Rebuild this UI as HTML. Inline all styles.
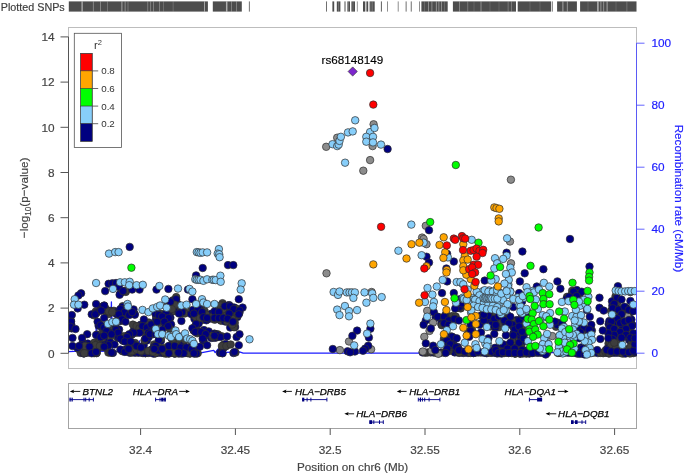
<!DOCTYPE html><html><head><meta charset="utf-8"><title>LocusZoom</title>
<style>html,body{margin:0;padding:0;background:#fff}svg{display:block;will-change:transform}text{font-family:"Liberation Sans",Arial,Helvetica,sans-serif}.t{stroke:#444;stroke-width:.18}.bt{stroke:#2020ff;stroke-width:.18}</style></head><body>
<svg width="685" height="475" viewBox="0 0 685 475">
<rect width="685" height="475" fill="#fff"/>
<text x="0.8" y="10.6" class="t" font-size="10.75" fill="#3c3c3c">Plotted SNPs</text>
<g fill="#4d4d4d">
<rect x="68.8" y="1.4" width="139.1" height="10.2" opacity="1"/>
<rect x="212.8" y="1.4" width="29.0" height="10.2" opacity="1"/>
<rect x="248.9" y="1.4" width="0.8" height="10.2" opacity="1"/>
<rect x="326.2" y="1.4" width="0.8" height="10.2" opacity="1"/>
<rect x="332.4" y="1.4" width="1.8" height="10.2" opacity="1"/>
<rect x="336.8" y="1.4" width="3.6" height="10.2" opacity="1"/>
<rect x="344.0" y="1.4" width="2.0" height="10.2" opacity="0.5"/>
<rect x="347.4" y="1.4" width="2.6" height="10.2" opacity="1"/>
<rect x="351.4" y="1.4" width="3.6" height="10.2" opacity="1"/>
<rect x="356.9" y="1.4" width="0.7" height="10.2" opacity="0.8"/>
<rect x="363.0" y="1.4" width="2.3" height="10.2" opacity="1"/>
<rect x="366.4" y="1.4" width="1.8" height="10.2" opacity="1"/>
<rect x="369.6" y="1.4" width="5.1" height="10.2" opacity="1"/>
<rect x="380.9" y="1.4" width="0.9" height="10.2" opacity="1"/>
<rect x="387.1" y="1.4" width="0.7" height="10.2" opacity="0.9"/>
<rect x="397.8" y="1.4" width="0.7" height="10.2" opacity="0.9"/>
<rect x="405.7" y="1.4" width="0.8" height="10.2" opacity="1"/>
<rect x="410.8" y="1.4" width="0.8" height="10.2" opacity="1"/>
<rect x="419.0" y="1.4" width="0.7" height="10.2" opacity="0.9"/>
<rect x="421.4" y="1.4" width="26.3" height="10.2" opacity="1"/>
<rect x="452.9" y="1.4" width="63.1" height="10.2" opacity="1"/>
<rect x="517.7" y="1.4" width="33.5" height="10.2" opacity="1"/>
<rect x="552.1" y="1.4" width="0.7" height="10.2" opacity="0.9"/>
<rect x="557.1" y="1.4" width="19.8" height="10.2" opacity="1"/>
<rect x="580.1" y="1.4" width="56.4" height="10.2" opacity="1"/>
</g>
<g fill="#fff">
<rect x="81.50" y="1.4" width="1.2" height="10.2" opacity="0.6"/>
<rect x="92.90" y="1.4" width="0.8" height="10.2" opacity="0.4"/>
<rect x="100.20" y="1.4" width="0.8" height="10.2" opacity="0.4"/>
<rect x="107.00" y="1.4" width="0.6" height="10.2" opacity="0.35"/>
<rect x="121.40" y="1.4" width="1" height="10.2" opacity="0.5"/>
<rect x="124.75" y="1.4" width="0.7" height="10.2" opacity="0.5"/>
<rect x="127.70" y="1.4" width="0.6" height="10.2" opacity="0.4"/>
<rect x="147.45" y="1.4" width="0.7" height="10.2" opacity="0.4"/>
<rect x="150.35" y="1.4" width="0.7" height="10.2" opacity="0.4"/>
<rect x="153.25" y="1.4" width="0.7" height="10.2" opacity="0.4"/>
<rect x="159.05" y="1.4" width="0.7" height="10.2" opacity="0.4"/>
<rect x="163.30" y="1.4" width="0.6" height="10.2" opacity="0.3"/>
<rect x="172.80" y="1.4" width="0.6" height="10.2" opacity="0.3"/>
<rect x="204.05" y="1.4" width="0.9" height="10.2" opacity="0.55"/>
<rect x="225.95" y="1.4" width="1.5" height="10.2" opacity="0.55"/>
<rect x="231.15" y="1.4" width="0.7" height="10.2" opacity="0.4"/>
<rect x="236.25" y="1.4" width="0.7" height="10.2" opacity="0.4"/>
<rect x="338.05" y="1.4" width="0.5" height="10.2" opacity="0.4"/>
<rect x="348.25" y="1.4" width="0.5" height="10.2" opacity="0.4"/>
<rect x="352.75" y="1.4" width="0.5" height="10.2" opacity="0.4"/>
<rect x="370.75" y="1.4" width="0.5" height="10.2" opacity="0.4"/>
<rect x="372.55" y="1.4" width="0.5" height="10.2" opacity="0.4"/>
<rect x="428.00" y="1.4" width="0.8" height="10.2" opacity="0.45"/>
<rect x="431.50" y="1.4" width="0.8" height="10.2" opacity="0.45"/>
<rect x="435.90" y="1.4" width="0.8" height="10.2" opacity="0.5"/>
<rect x="438.55" y="1.4" width="0.7" height="10.2" opacity="0.5"/>
<rect x="441.15" y="1.4" width="0.7" height="10.2" opacity="0.5"/>
<rect x="424.25" y="1.4" width="0.5" height="10.2" opacity="0.3"/>
<rect x="444.25" y="1.4" width="0.5" height="10.2" opacity="0.3"/>
<rect x="459.00" y="1.4" width="0.8" height="10.2" opacity="0.4"/>
<rect x="467.45" y="1.4" width="0.7" height="10.2" opacity="0.35"/>
<rect x="480.60" y="1.4" width="0.8" height="10.2" opacity="0.45"/>
<rect x="507.75" y="1.4" width="0.7" height="10.2" opacity="0.35"/>
<rect x="511.25" y="1.4" width="0.7" height="10.2" opacity="0.35"/>
<rect x="473.75" y="1.4" width="0.5" height="10.2" opacity="0.25"/>
<rect x="489.75" y="1.4" width="0.5" height="10.2" opacity="0.25"/>
<rect x="498.75" y="1.4" width="0.5" height="10.2" opacity="0.25"/>
<rect x="562.40" y="1.4" width="1" height="10.2" opacity="0.5"/>
<rect x="566.85" y="1.4" width="0.9" height="10.2" opacity="0.45"/>
<rect x="529.75" y="1.4" width="0.5" height="10.2" opacity="0.25"/>
<rect x="539.75" y="1.4" width="0.5" height="10.2" opacity="0.25"/>
<rect x="597.10" y="1.4" width="1.6" height="10.2" opacity="0.55"/>
<rect x="600.50" y="1.4" width="0.8" height="10.2" opacity="0.5"/>
<rect x="603.30" y="1.4" width="0.8" height="10.2" opacity="0.45"/>
<rect x="606.60" y="1.4" width="1" height="10.2" opacity="0.5"/>
<rect x="626.55" y="1.4" width="0.7" height="10.2" opacity="0.3"/>
<rect x="587.75" y="1.4" width="0.5" height="10.2" opacity="0.25"/>
<rect x="615.75" y="1.4" width="0.5" height="10.2" opacity="0.25"/>
</g>
<rect x="68.5" y="27.5" width="568.0" height="341.0" fill="none" stroke="#bdbdbd" stroke-width="1"/>
<path d="M68.5 351.6 L80 351.2 L95 351.4 L96.2 328 L97.2 351.4 L110.3 351.2 L111.4 302 L112.6 351.3 L138.5 351.5 L139.5 341 L140.5 351.5 L202 352.6 L213.8 350.4 L215.2 352.6 L218.2 348.9 L219.6 352.6 L239.5 351.9 L243.2 353.2 L420 353.2 L430 352.6 L636.5 352.6" fill="none" stroke="#1c1cff" stroke-width="1.3" stroke-linejoin="round"/>
<clipPath id="cp"><rect x="68.5" y="27.5" width="568.0" height="341.0"/></clipPath>
<g stroke="#2e2e2e" stroke-width="0.7" clip-path="url(#cp)">
<circle cx="80.7" cy="352.9" r="3.75" fill="#3d3d3d"/>
<circle cx="83.6" cy="352.7" r="3.75" fill="#3d3d3d"/>
<circle cx="86.2" cy="352.4" r="3.75" fill="#3d3d3d"/>
<circle cx="88.4" cy="352.5" r="3.75" fill="#000080"/>
<circle cx="91.7" cy="352.5" r="3.75" fill="#000080"/>
<circle cx="94.1" cy="353.2" r="3.75" fill="#3d3d3d"/>
<circle cx="96.5" cy="353.2" r="3.75" fill="#000080"/>
<circle cx="108.4" cy="352.6" r="3.75" fill="#3d3d3d"/>
<circle cx="110.2" cy="352.6" r="3.75" fill="#3d3d3d"/>
<circle cx="112.9" cy="352.9" r="3.75" fill="#000080"/>
<circle cx="129.9" cy="352.8" r="3.75" fill="#000080"/>
<circle cx="132.2" cy="352.6" r="3.75" fill="#3d3d3d"/>
<circle cx="135.1" cy="352.7" r="3.75" fill="#000080"/>
<circle cx="137.8" cy="352.6" r="3.75" fill="#000080"/>
<circle cx="140.6" cy="352.6" r="3.75" fill="#000080"/>
<circle cx="143.0" cy="353.1" r="3.75" fill="#000080"/>
<circle cx="145.4" cy="353.2" r="3.75" fill="#000080"/>
<circle cx="148.1" cy="353.0" r="3.75" fill="#3d3d3d"/>
<circle cx="150.8" cy="352.4" r="3.75" fill="#3d3d3d"/>
<circle cx="153.7" cy="352.9" r="3.75" fill="#000080"/>
<circle cx="155.8" cy="353.0" r="3.75" fill="#000080"/>
<circle cx="158.7" cy="352.8" r="3.75" fill="#000080"/>
<circle cx="161.6" cy="352.8" r="3.75" fill="#000080"/>
<circle cx="163.4" cy="353.0" r="3.75" fill="#000080"/>
<circle cx="166.9" cy="353.1" r="3.75" fill="#000080"/>
<circle cx="168.9" cy="352.9" r="3.75" fill="#3d3d3d"/>
<circle cx="171.6" cy="352.5" r="3.75" fill="#3d3d3d"/>
<circle cx="173.8" cy="353.0" r="3.75" fill="#3d3d3d"/>
<circle cx="176.5" cy="352.7" r="3.75" fill="#3d3d3d"/>
<circle cx="179.0" cy="352.8" r="3.75" fill="#000080"/>
<circle cx="182.4" cy="353.1" r="3.75" fill="#000080"/>
<circle cx="184.4" cy="352.7" r="3.75" fill="#000080"/>
<circle cx="187.6" cy="353.2" r="3.75" fill="#3d3d3d"/>
<circle cx="189.5" cy="352.6" r="3.75" fill="#3d3d3d"/>
<circle cx="192.4" cy="352.9" r="3.75" fill="#3d3d3d"/>
<circle cx="194.5" cy="352.7" r="3.75" fill="#3d3d3d"/>
<circle cx="197.7" cy="353.2" r="3.75" fill="#3d3d3d"/>
<circle cx="220.0" cy="352.9" r="3.75" fill="#000080"/>
<circle cx="222.2" cy="353.1" r="3.75" fill="#000080"/>
<circle cx="233.4" cy="353.0" r="3.75" fill="#000080"/>
<circle cx="235.5" cy="352.5" r="3.75" fill="#3d3d3d"/>
<circle cx="422.6" cy="352.5" r="3.75" fill="#000080"/>
<circle cx="425.3" cy="352.7" r="3.75" fill="#3d3d3d"/>
<circle cx="427.7" cy="352.5" r="3.75" fill="#3d3d3d"/>
<circle cx="430.7" cy="352.4" r="3.75" fill="#3d3d3d"/>
<circle cx="433.5" cy="352.5" r="3.75" fill="#000080"/>
<circle cx="435.8" cy="352.7" r="3.75" fill="#3d3d3d"/>
<circle cx="438.9" cy="353.2" r="3.75" fill="#3d3d3d"/>
<circle cx="441.2" cy="352.5" r="3.75" fill="#000080"/>
<circle cx="443.6" cy="352.6" r="3.75" fill="#3d3d3d"/>
<circle cx="454.7" cy="352.4" r="3.75" fill="#000080"/>
<circle cx="457.6" cy="352.5" r="3.75" fill="#000080"/>
<circle cx="459.7" cy="352.8" r="3.75" fill="#000080"/>
<circle cx="463.2" cy="353.0" r="3.75" fill="#000080"/>
<circle cx="465.3" cy="352.5" r="3.75" fill="#3d3d3d"/>
<circle cx="468.0" cy="353.0" r="3.75" fill="#000080"/>
<circle cx="470.3" cy="353.0" r="3.75" fill="#3d3d3d"/>
<circle cx="473.6" cy="353.0" r="3.75" fill="#000080"/>
<circle cx="476.0" cy="352.6" r="3.75" fill="#000080"/>
<circle cx="478.3" cy="352.4" r="3.75" fill="#000080"/>
<circle cx="480.8" cy="352.6" r="3.75" fill="#3d3d3d"/>
<circle cx="484.1" cy="352.8" r="3.75" fill="#000080"/>
<circle cx="486.7" cy="353.2" r="3.75" fill="#000080"/>
<circle cx="488.5" cy="352.6" r="3.75" fill="#3d3d3d"/>
<circle cx="491.1" cy="352.9" r="3.75" fill="#3d3d3d"/>
<circle cx="494.3" cy="352.8" r="3.75" fill="#000080"/>
<circle cx="496.9" cy="352.5" r="3.75" fill="#000080"/>
<circle cx="499.6" cy="353.0" r="3.75" fill="#000080"/>
<circle cx="501.8" cy="352.5" r="3.75" fill="#000080"/>
<circle cx="504.2" cy="353.0" r="3.75" fill="#000080"/>
<circle cx="506.9" cy="352.7" r="3.75" fill="#000080"/>
<circle cx="509.8" cy="352.5" r="3.75" fill="#000080"/>
<circle cx="511.9" cy="353.1" r="3.75" fill="#3d3d3d"/>
<circle cx="514.4" cy="353.1" r="3.75" fill="#000080"/>
<circle cx="519.2" cy="352.7" r="3.75" fill="#000080"/>
<circle cx="521.2" cy="352.4" r="3.75" fill="#000080"/>
<circle cx="524.3" cy="352.8" r="3.75" fill="#000080"/>
<circle cx="526.7" cy="353.1" r="3.75" fill="#000080"/>
<circle cx="529.1" cy="352.6" r="3.75" fill="#000080"/>
<circle cx="531.7" cy="352.9" r="3.75" fill="#3d3d3d"/>
<circle cx="534.5" cy="352.5" r="3.75" fill="#3d3d3d"/>
<circle cx="537.1" cy="352.8" r="3.75" fill="#000080"/>
<circle cx="540.2" cy="352.7" r="3.75" fill="#000080"/>
<circle cx="542.4" cy="352.8" r="3.75" fill="#000080"/>
<circle cx="544.5" cy="352.8" r="3.75" fill="#000080"/>
<circle cx="547.1" cy="353.0" r="3.75" fill="#3d3d3d"/>
<circle cx="558.0" cy="353.0" r="3.75" fill="#3d3d3d"/>
<circle cx="560.4" cy="352.8" r="3.75" fill="#000080"/>
<circle cx="563.5" cy="352.5" r="3.75" fill="#000080"/>
<circle cx="565.5" cy="352.6" r="3.75" fill="#000080"/>
<circle cx="568.4" cy="352.8" r="3.75" fill="#000080"/>
<circle cx="571.4" cy="352.8" r="3.75" fill="#000080"/>
<circle cx="573.6" cy="352.8" r="3.75" fill="#000080"/>
<circle cx="582.0" cy="352.8" r="3.75" fill="#000080"/>
<circle cx="585.0" cy="353.0" r="3.75" fill="#000080"/>
<circle cx="587.6" cy="352.6" r="3.75" fill="#000080"/>
<circle cx="590.2" cy="353.1" r="3.75" fill="#000080"/>
<circle cx="592.0" cy="352.8" r="3.75" fill="#3d3d3d"/>
<circle cx="594.7" cy="352.5" r="3.75" fill="#3d3d3d"/>
<circle cx="597.9" cy="353.1" r="3.75" fill="#000080"/>
<circle cx="600.4" cy="352.9" r="3.75" fill="#3d3d3d"/>
<circle cx="603.2" cy="353.2" r="3.75" fill="#3d3d3d"/>
<circle cx="605.9" cy="352.7" r="3.75" fill="#3d3d3d"/>
<circle cx="608.5" cy="353.1" r="3.75" fill="#000080"/>
<circle cx="610.5" cy="352.8" r="3.75" fill="#3d3d3d"/>
<circle cx="612.9" cy="352.7" r="3.75" fill="#3d3d3d"/>
<circle cx="615.3" cy="352.8" r="3.75" fill="#000080"/>
<circle cx="617.9" cy="352.7" r="3.75" fill="#000080"/>
<circle cx="621.0" cy="352.5" r="3.75" fill="#000080"/>
<circle cx="623.9" cy="353.2" r="3.75" fill="#000080"/>
<circle cx="626.0" cy="352.4" r="3.75" fill="#3d3d3d"/>
<circle cx="628.6" cy="352.5" r="3.75" fill="#000080"/>
<circle cx="631.8" cy="353.1" r="3.75" fill="#000080"/>
<circle cx="633.6" cy="353.1" r="3.75" fill="#3d3d3d"/>
<circle cx="636.8" cy="352.5" r="3.75" fill="#000080"/>
<circle cx="639.4" cy="352.7" r="3.75" fill="#3d3d3d"/>
<circle cx="125.8" cy="291.9" r="3.75" fill="#3d3d3d"/>
<circle cx="120.4" cy="293.3" r="3.75" fill="#000080"/>
<circle cx="125.4" cy="290.8" r="3.75" fill="#3d3d3d"/>
<circle cx="108.9" cy="313.9" r="3.75" fill="#3d3d3d"/>
<circle cx="106.2" cy="311.5" r="3.75" fill="#3d3d3d"/>
<circle cx="106.1" cy="309.3" r="3.75" fill="#3d3d3d"/>
<circle cx="110.4" cy="311.0" r="3.75" fill="#3d3d3d"/>
<circle cx="113.9" cy="310.8" r="3.75" fill="#3d3d3d"/>
<circle cx="110.2" cy="311.2" r="3.75" fill="#000080"/>
<circle cx="83.4" cy="343.1" r="3.75" fill="#3d3d3d"/>
<circle cx="85.4" cy="344.1" r="3.75" fill="#000080"/>
<circle cx="87.8" cy="343.6" r="3.75" fill="#000080"/>
<circle cx="83.9" cy="353.3" r="3.75" fill="#000080"/>
<circle cx="83.6" cy="353.4" r="3.75" fill="#000080"/>
<circle cx="87.4" cy="352.4" r="3.75" fill="#000080"/>
<circle cx="96.7" cy="346.0" r="3.75" fill="#000080"/>
<circle cx="94.4" cy="342.6" r="3.75" fill="#3d3d3d"/>
<circle cx="92.6" cy="346.7" r="3.75" fill="#3d3d3d"/>
<circle cx="97.6" cy="343.5" r="3.75" fill="#3d3d3d"/>
<circle cx="102.1" cy="347.0" r="3.75" fill="#000080"/>
<circle cx="98.1" cy="344.7" r="3.75" fill="#3d3d3d"/>
<circle cx="134.4" cy="325.8" r="3.75" fill="#000080"/>
<circle cx="139.5" cy="328.9" r="3.75" fill="#3d3d3d"/>
<circle cx="134.9" cy="328.9" r="3.75" fill="#000080"/>
<circle cx="131.2" cy="348.1" r="3.75" fill="#3d3d3d"/>
<circle cx="132.0" cy="351.1" r="3.75" fill="#3d3d3d"/>
<circle cx="132.2" cy="348.1" r="3.75" fill="#3d3d3d"/>
<circle cx="134.0" cy="349.0" r="3.75" fill="#3d3d3d"/>
<circle cx="133.5" cy="348.5" r="3.75" fill="#3d3d3d"/>
<circle cx="137.1" cy="349.8" r="3.75" fill="#3d3d3d"/>
<circle cx="142.0" cy="352.4" r="3.75" fill="#000080"/>
<circle cx="140.3" cy="350.1" r="3.75" fill="#000080"/>
<circle cx="138.8" cy="352.5" r="3.75" fill="#000080"/>
<circle cx="145.4" cy="353.1" r="3.75" fill="#000080"/>
<circle cx="149.2" cy="352.5" r="3.75" fill="#000080"/>
<circle cx="146.1" cy="351.3" r="3.75" fill="#000080"/>
<circle cx="154.9" cy="353.6" r="3.75" fill="#000080"/>
<circle cx="153.3" cy="353.6" r="3.75" fill="#000080"/>
<circle cx="154.0" cy="350.2" r="3.75" fill="#000080"/>
<circle cx="137.2" cy="327.5" r="3.75" fill="#3d3d3d"/>
<circle cx="141.7" cy="328.6" r="3.75" fill="#3d3d3d"/>
<circle cx="140.3" cy="329.4" r="3.75" fill="#000080"/>
<circle cx="101.0" cy="307.3" r="3.75" fill="#000080"/>
<circle cx="104.2" cy="305.7" r="3.75" fill="#000080"/>
<circle cx="101.4" cy="306.9" r="3.75" fill="#000080"/>
<circle cx="68.3" cy="320.3" r="3.75" fill="#3d3d3d"/>
<circle cx="69.2" cy="323.1" r="3.75" fill="#000080"/>
<circle cx="71.0" cy="321.0" r="3.75" fill="#000080"/>
<circle cx="71.5" cy="328.4" r="3.75" fill="#000080"/>
<circle cx="71.2" cy="324.3" r="3.75" fill="#000080"/>
<circle cx="68.7" cy="328.3" r="3.75" fill="#3d3d3d"/>
<circle cx="95.8" cy="311.4" r="3.75" fill="#3d3d3d"/>
<circle cx="93.9" cy="315.3" r="3.75" fill="#3d3d3d"/>
<circle cx="96.5" cy="313.0" r="3.75" fill="#000080"/>
<circle cx="101.0" cy="310.4" r="3.75" fill="#000080"/>
<circle cx="103.8" cy="308.8" r="3.75" fill="#3d3d3d"/>
<circle cx="104.0" cy="307.7" r="3.75" fill="#000080"/>
<circle cx="102.5" cy="328.2" r="3.75" fill="#000080"/>
<circle cx="99.0" cy="323.6" r="3.75" fill="#3d3d3d"/>
<circle cx="98.6" cy="325.8" r="3.75" fill="#000080"/>
<circle cx="104.3" cy="330.3" r="3.75" fill="#3d3d3d"/>
<circle cx="106.2" cy="327.6" r="3.75" fill="#3d3d3d"/>
<circle cx="105.5" cy="325.9" r="3.75" fill="#000080"/>
<circle cx="106.3" cy="328.4" r="3.75" fill="#000080"/>
<circle cx="106.3" cy="330.9" r="3.75" fill="#3d3d3d"/>
<circle cx="104.1" cy="330.3" r="3.75" fill="#3d3d3d"/>
<circle cx="122.6" cy="306.2" r="3.75" fill="#3d3d3d"/>
<circle cx="122.6" cy="306.9" r="3.75" fill="#000080"/>
<circle cx="121.7" cy="311.6" r="3.75" fill="#000080"/>
<circle cx="124.0" cy="311.4" r="3.75" fill="#3d3d3d"/>
<circle cx="125.4" cy="311.3" r="3.75" fill="#000080"/>
<circle cx="123.4" cy="309.4" r="3.75" fill="#3d3d3d"/>
<circle cx="131.4" cy="313.8" r="3.75" fill="#3d3d3d"/>
<circle cx="127.6" cy="313.6" r="3.75" fill="#000080"/>
<circle cx="127.2" cy="314.3" r="3.75" fill="#000080"/>
<circle cx="134.6" cy="314.0" r="3.75" fill="#000080"/>
<circle cx="134.8" cy="314.7" r="3.75" fill="#000080"/>
<circle cx="133.6" cy="309.4" r="3.75" fill="#000080"/>
<circle cx="118.6" cy="315.8" r="3.75" fill="#000080"/>
<circle cx="117.5" cy="311.6" r="3.75" fill="#000080"/>
<circle cx="116.5" cy="314.1" r="3.75" fill="#000080"/>
<circle cx="120.6" cy="320.9" r="3.75" fill="#3d3d3d"/>
<circle cx="120.3" cy="320.4" r="3.75" fill="#000080"/>
<circle cx="122.2" cy="318.8" r="3.75" fill="#3d3d3d"/>
<circle cx="113.8" cy="328.0" r="3.75" fill="#3d3d3d"/>
<circle cx="115.9" cy="328.1" r="3.75" fill="#000080"/>
<circle cx="119.1" cy="329.5" r="3.75" fill="#000080"/>
<circle cx="116.2" cy="330.3" r="3.75" fill="#3d3d3d"/>
<circle cx="115.6" cy="331.1" r="3.75" fill="#3d3d3d"/>
<circle cx="118.6" cy="335.0" r="3.75" fill="#3d3d3d"/>
<circle cx="111.0" cy="333.7" r="3.75" fill="#000080"/>
<circle cx="110.8" cy="333.2" r="3.75" fill="#000080"/>
<circle cx="110.1" cy="337.0" r="3.75" fill="#3d3d3d"/>
<circle cx="142.5" cy="326.9" r="3.75" fill="#3d3d3d"/>
<circle cx="140.7" cy="324.7" r="3.75" fill="#000080"/>
<circle cx="141.8" cy="325.8" r="3.75" fill="#3d3d3d"/>
<circle cx="149.1" cy="329.8" r="3.75" fill="#000080"/>
<circle cx="143.9" cy="328.8" r="3.75" fill="#3d3d3d"/>
<circle cx="146.7" cy="328.1" r="3.75" fill="#000080"/>
<circle cx="150.6" cy="327.2" r="3.75" fill="#3d3d3d"/>
<circle cx="153.6" cy="327.4" r="3.75" fill="#000080"/>
<circle cx="148.8" cy="322.5" r="3.75" fill="#3d3d3d"/>
<circle cx="155.4" cy="332.4" r="3.75" fill="#000080"/>
<circle cx="155.2" cy="331.4" r="3.75" fill="#000080"/>
<circle cx="154.6" cy="327.0" r="3.75" fill="#000080"/>
<circle cx="155.5" cy="324.2" r="3.75" fill="#000080"/>
<circle cx="155.9" cy="319.4" r="3.75" fill="#000080"/>
<circle cx="158.1" cy="322.9" r="3.75" fill="#3d3d3d"/>
<circle cx="155.9" cy="315.2" r="3.75" fill="#3d3d3d"/>
<circle cx="158.0" cy="313.4" r="3.75" fill="#000080"/>
<circle cx="155.5" cy="313.8" r="3.75" fill="#000080"/>
<circle cx="151.3" cy="333.6" r="3.75" fill="#000080"/>
<circle cx="148.2" cy="331.1" r="3.75" fill="#000080"/>
<circle cx="151.3" cy="333.9" r="3.75" fill="#3d3d3d"/>
<circle cx="136.5" cy="332.7" r="3.75" fill="#3d3d3d"/>
<circle cx="139.0" cy="331.3" r="3.75" fill="#000080"/>
<circle cx="142.2" cy="331.1" r="3.75" fill="#000080"/>
<circle cx="132.6" cy="332.2" r="3.75" fill="#3d3d3d"/>
<circle cx="131.7" cy="334.5" r="3.75" fill="#000080"/>
<circle cx="133.7" cy="330.9" r="3.75" fill="#000080"/>
<circle cx="128.0" cy="336.1" r="3.75" fill="#000080"/>
<circle cx="127.4" cy="335.7" r="3.75" fill="#3d3d3d"/>
<circle cx="132.1" cy="334.2" r="3.75" fill="#3d3d3d"/>
<circle cx="125.2" cy="336.6" r="3.75" fill="#3d3d3d"/>
<circle cx="129.9" cy="335.0" r="3.75" fill="#000080"/>
<circle cx="125.2" cy="340.0" r="3.75" fill="#3d3d3d"/>
<circle cx="97.6" cy="334.5" r="3.75" fill="#3d3d3d"/>
<circle cx="103.0" cy="339.4" r="3.75" fill="#3d3d3d"/>
<circle cx="103.7" cy="339.7" r="3.75" fill="#000080"/>
<circle cx="102.2" cy="338.3" r="3.75" fill="#3d3d3d"/>
<circle cx="101.2" cy="336.6" r="3.75" fill="#000080"/>
<circle cx="103.4" cy="334.6" r="3.75" fill="#3d3d3d"/>
<circle cx="117.2" cy="337.3" r="3.75" fill="#3d3d3d"/>
<circle cx="123.3" cy="336.3" r="3.75" fill="#3d3d3d"/>
<circle cx="118.5" cy="337.7" r="3.75" fill="#000080"/>
<circle cx="126.9" cy="341.1" r="3.75" fill="#000080"/>
<circle cx="124.6" cy="340.8" r="3.75" fill="#3d3d3d"/>
<circle cx="122.8" cy="340.7" r="3.75" fill="#000080"/>
<circle cx="105.6" cy="344.7" r="3.75" fill="#000080"/>
<circle cx="110.3" cy="342.5" r="3.75" fill="#000080"/>
<circle cx="105.8" cy="347.7" r="3.75" fill="#3d3d3d"/>
<circle cx="132.3" cy="343.9" r="3.75" fill="#3d3d3d"/>
<circle cx="129.2" cy="344.3" r="3.75" fill="#3d3d3d"/>
<circle cx="129.2" cy="342.8" r="3.75" fill="#000080"/>
<circle cx="135.1" cy="343.0" r="3.75" fill="#3d3d3d"/>
<circle cx="139.2" cy="346.8" r="3.75" fill="#000080"/>
<circle cx="133.5" cy="344.4" r="3.75" fill="#000080"/>
<circle cx="143.9" cy="350.2" r="3.75" fill="#000080"/>
<circle cx="139.4" cy="347.0" r="3.75" fill="#3d3d3d"/>
<circle cx="143.7" cy="345.5" r="3.75" fill="#000080"/>
<circle cx="146.9" cy="340.5" r="3.75" fill="#000080"/>
<circle cx="146.1" cy="337.6" r="3.75" fill="#000080"/>
<circle cx="144.5" cy="340.3" r="3.75" fill="#3d3d3d"/>
<circle cx="147.9" cy="335.7" r="3.75" fill="#3d3d3d"/>
<circle cx="147.1" cy="331.4" r="3.75" fill="#3d3d3d"/>
<circle cx="148.7" cy="337.1" r="3.75" fill="#000080"/>
<circle cx="158.9" cy="332.8" r="3.75" fill="#000080"/>
<circle cx="153.1" cy="334.2" r="3.75" fill="#3d3d3d"/>
<circle cx="155.4" cy="332.6" r="3.75" fill="#000080"/>
<circle cx="159.4" cy="341.1" r="3.75" fill="#3d3d3d"/>
<circle cx="160.9" cy="341.1" r="3.75" fill="#000080"/>
<circle cx="160.9" cy="338.8" r="3.75" fill="#3d3d3d"/>
<circle cx="154.9" cy="347.4" r="3.75" fill="#000080"/>
<circle cx="154.1" cy="344.4" r="3.75" fill="#3d3d3d"/>
<circle cx="158.2" cy="346.4" r="3.75" fill="#3d3d3d"/>
<circle cx="78.5" cy="348.9" r="3.75" fill="#3d3d3d"/>
<circle cx="77.4" cy="347.8" r="3.75" fill="#000080"/>
<circle cx="82.3" cy="343.6" r="3.75" fill="#000080"/>
<circle cx="91.5" cy="348.7" r="3.75" fill="#000080"/>
<circle cx="86.5" cy="345.5" r="3.75" fill="#000080"/>
<circle cx="87.5" cy="349.5" r="3.75" fill="#3d3d3d"/>
<circle cx="94.4" cy="352.6" r="3.75" fill="#000080"/>
<circle cx="91.3" cy="351.9" r="3.75" fill="#000080"/>
<circle cx="94.5" cy="351.0" r="3.75" fill="#000080"/>
<circle cx="96.9" cy="350.2" r="3.75" fill="#000080"/>
<circle cx="93.8" cy="350.1" r="3.75" fill="#3d3d3d"/>
<circle cx="96.7" cy="352.8" r="3.75" fill="#3d3d3d"/>
<circle cx="101.1" cy="345.7" r="3.75" fill="#3d3d3d"/>
<circle cx="102.2" cy="345.6" r="3.75" fill="#000080"/>
<circle cx="106.1" cy="347.0" r="3.75" fill="#3d3d3d"/>
<circle cx="122.3" cy="351.2" r="3.75" fill="#3d3d3d"/>
<circle cx="125.7" cy="349.4" r="3.75" fill="#000080"/>
<circle cx="126.1" cy="351.3" r="3.75" fill="#3d3d3d"/>
<circle cx="127.3" cy="351.6" r="3.75" fill="#3d3d3d"/>
<circle cx="128.9" cy="348.1" r="3.75" fill="#3d3d3d"/>
<circle cx="130.8" cy="351.9" r="3.75" fill="#3d3d3d"/>
<circle cx="156.7" cy="351.8" r="3.75" fill="#3d3d3d"/>
<circle cx="155.5" cy="352.8" r="3.75" fill="#3d3d3d"/>
<circle cx="160.7" cy="349.8" r="3.75" fill="#3d3d3d"/>
<circle cx="154.0" cy="346.9" r="3.75" fill="#000080"/>
<circle cx="154.6" cy="349.8" r="3.75" fill="#3d3d3d"/>
<circle cx="151.6" cy="349.6" r="3.75" fill="#000080"/>
<circle cx="176.2" cy="297.1" r="3.75" fill="#3d3d3d"/>
<circle cx="176.3" cy="301.8" r="3.75" fill="#3d3d3d"/>
<circle cx="176.1" cy="301.0" r="3.75" fill="#3d3d3d"/>
<circle cx="172.8" cy="302.5" r="3.75" fill="#000080"/>
<circle cx="177.8" cy="304.6" r="3.75" fill="#000080"/>
<circle cx="177.5" cy="304.1" r="3.75" fill="#3d3d3d"/>
<circle cx="172.6" cy="311.1" r="3.75" fill="#000080"/>
<circle cx="173.6" cy="307.5" r="3.75" fill="#3d3d3d"/>
<circle cx="174.0" cy="311.1" r="3.75" fill="#3d3d3d"/>
<circle cx="180.3" cy="308.5" r="3.75" fill="#3d3d3d"/>
<circle cx="181.3" cy="306.9" r="3.75" fill="#000080"/>
<circle cx="183.5" cy="311.5" r="3.75" fill="#3d3d3d"/>
<circle cx="220.8" cy="307.0" r="3.75" fill="#3d3d3d"/>
<circle cx="222.5" cy="303.2" r="3.75" fill="#3d3d3d"/>
<circle cx="220.7" cy="306.2" r="3.75" fill="#000080"/>
<circle cx="222.8" cy="309.6" r="3.75" fill="#3d3d3d"/>
<circle cx="224.3" cy="308.8" r="3.75" fill="#3d3d3d"/>
<circle cx="220.3" cy="309.9" r="3.75" fill="#3d3d3d"/>
<circle cx="194.4" cy="318.8" r="3.75" fill="#000080"/>
<circle cx="195.8" cy="315.3" r="3.75" fill="#000080"/>
<circle cx="193.6" cy="315.0" r="3.75" fill="#000080"/>
<circle cx="197.2" cy="317.6" r="3.75" fill="#3d3d3d"/>
<circle cx="196.8" cy="318.8" r="3.75" fill="#000080"/>
<circle cx="201.3" cy="319.6" r="3.75" fill="#3d3d3d"/>
<circle cx="223.4" cy="315.8" r="3.75" fill="#000080"/>
<circle cx="229.2" cy="313.6" r="3.75" fill="#3d3d3d"/>
<circle cx="229.4" cy="317.2" r="3.75" fill="#000080"/>
<circle cx="230.2" cy="327.5" r="3.75" fill="#000080"/>
<circle cx="235.1" cy="327.1" r="3.75" fill="#000080"/>
<circle cx="234.0" cy="327.2" r="3.75" fill="#3d3d3d"/>
<circle cx="173.0" cy="340.1" r="3.75" fill="#3d3d3d"/>
<circle cx="176.5" cy="337.3" r="3.75" fill="#3d3d3d"/>
<circle cx="171.7" cy="338.6" r="3.75" fill="#000080"/>
<circle cx="177.3" cy="337.2" r="3.75" fill="#000080"/>
<circle cx="178.0" cy="335.8" r="3.75" fill="#000080"/>
<circle cx="177.0" cy="341.2" r="3.75" fill="#3d3d3d"/>
<circle cx="214.8" cy="333.7" r="3.75" fill="#000080"/>
<circle cx="209.8" cy="335.8" r="3.75" fill="#000080"/>
<circle cx="211.4" cy="337.9" r="3.75" fill="#000080"/>
<circle cx="222.4" cy="348.3" r="3.75" fill="#000080"/>
<circle cx="225.0" cy="346.7" r="3.75" fill="#3d3d3d"/>
<circle cx="223.8" cy="344.6" r="3.75" fill="#3d3d3d"/>
<circle cx="226.8" cy="345.1" r="3.75" fill="#000080"/>
<circle cx="225.9" cy="344.0" r="3.75" fill="#000080"/>
<circle cx="223.4" cy="347.9" r="3.75" fill="#000080"/>
<circle cx="165.3" cy="353.6" r="3.75" fill="#3d3d3d"/>
<circle cx="165.5" cy="350.7" r="3.75" fill="#000080"/>
<circle cx="161.4" cy="349.8" r="3.75" fill="#3d3d3d"/>
<circle cx="174.3" cy="353.4" r="3.75" fill="#000080"/>
<circle cx="172.4" cy="351.7" r="3.75" fill="#000080"/>
<circle cx="171.7" cy="350.3" r="3.75" fill="#000080"/>
<circle cx="186.9" cy="352.5" r="3.75" fill="#3d3d3d"/>
<circle cx="190.0" cy="353.6" r="3.75" fill="#3d3d3d"/>
<circle cx="190.2" cy="353.2" r="3.75" fill="#3d3d3d"/>
<circle cx="173.1" cy="300.2" r="3.75" fill="#3d3d3d"/>
<circle cx="167.7" cy="302.6" r="3.75" fill="#3d3d3d"/>
<circle cx="172.1" cy="301.2" r="3.75" fill="#000080"/>
<circle cx="179.0" cy="313.0" r="3.75" fill="#3d3d3d"/>
<circle cx="181.1" cy="313.0" r="3.75" fill="#000080"/>
<circle cx="184.9" cy="313.5" r="3.75" fill="#3d3d3d"/>
<circle cx="181.7" cy="310.8" r="3.75" fill="#3d3d3d"/>
<circle cx="178.5" cy="312.0" r="3.75" fill="#000080"/>
<circle cx="180.9" cy="310.6" r="3.75" fill="#3d3d3d"/>
<circle cx="168.7" cy="311.4" r="3.75" fill="#000080"/>
<circle cx="166.6" cy="313.6" r="3.75" fill="#3d3d3d"/>
<circle cx="167.9" cy="311.6" r="3.75" fill="#000080"/>
<circle cx="160.9" cy="313.8" r="3.75" fill="#3d3d3d"/>
<circle cx="164.0" cy="317.8" r="3.75" fill="#000080"/>
<circle cx="164.4" cy="318.0" r="3.75" fill="#3d3d3d"/>
<circle cx="170.4" cy="317.7" r="3.75" fill="#000080"/>
<circle cx="166.3" cy="316.4" r="3.75" fill="#3d3d3d"/>
<circle cx="167.8" cy="319.5" r="3.75" fill="#3d3d3d"/>
<circle cx="166.6" cy="322.9" r="3.75" fill="#000080"/>
<circle cx="164.8" cy="321.3" r="3.75" fill="#3d3d3d"/>
<circle cx="164.6" cy="320.3" r="3.75" fill="#000080"/>
<circle cx="171.1" cy="324.4" r="3.75" fill="#000080"/>
<circle cx="165.0" cy="324.6" r="3.75" fill="#000080"/>
<circle cx="169.7" cy="328.8" r="3.75" fill="#3d3d3d"/>
<circle cx="192.0" cy="312.2" r="3.75" fill="#000080"/>
<circle cx="191.5" cy="312.3" r="3.75" fill="#3d3d3d"/>
<circle cx="194.4" cy="310.9" r="3.75" fill="#000080"/>
<circle cx="198.1" cy="311.2" r="3.75" fill="#000080"/>
<circle cx="200.6" cy="308.8" r="3.75" fill="#000080"/>
<circle cx="198.7" cy="308.0" r="3.75" fill="#000080"/>
<circle cx="202.8" cy="309.6" r="3.75" fill="#3d3d3d"/>
<circle cx="199.7" cy="309.3" r="3.75" fill="#000080"/>
<circle cx="204.7" cy="311.2" r="3.75" fill="#3d3d3d"/>
<circle cx="190.9" cy="310.8" r="3.75" fill="#3d3d3d"/>
<circle cx="194.7" cy="314.7" r="3.75" fill="#000080"/>
<circle cx="191.1" cy="314.1" r="3.75" fill="#000080"/>
<circle cx="216.5" cy="313.3" r="3.75" fill="#3d3d3d"/>
<circle cx="211.7" cy="313.6" r="3.75" fill="#000080"/>
<circle cx="217.3" cy="309.0" r="3.75" fill="#000080"/>
<circle cx="216.4" cy="309.3" r="3.75" fill="#3d3d3d"/>
<circle cx="220.9" cy="312.9" r="3.75" fill="#000080"/>
<circle cx="219.8" cy="310.8" r="3.75" fill="#000080"/>
<circle cx="222.2" cy="307.7" r="3.75" fill="#3d3d3d"/>
<circle cx="223.6" cy="305.7" r="3.75" fill="#3d3d3d"/>
<circle cx="223.2" cy="304.9" r="3.75" fill="#3d3d3d"/>
<circle cx="229.1" cy="305.1" r="3.75" fill="#000080"/>
<circle cx="230.0" cy="308.3" r="3.75" fill="#000080"/>
<circle cx="227.0" cy="305.7" r="3.75" fill="#000080"/>
<circle cx="235.4" cy="308.2" r="3.75" fill="#3d3d3d"/>
<circle cx="233.9" cy="307.4" r="3.75" fill="#000080"/>
<circle cx="231.0" cy="311.1" r="3.75" fill="#000080"/>
<circle cx="236.3" cy="308.8" r="3.75" fill="#3d3d3d"/>
<circle cx="242.6" cy="307.6" r="3.75" fill="#000080"/>
<circle cx="239.5" cy="312.4" r="3.75" fill="#000080"/>
<circle cx="238.8" cy="313.4" r="3.75" fill="#3d3d3d"/>
<circle cx="237.3" cy="317.0" r="3.75" fill="#000080"/>
<circle cx="237.0" cy="315.5" r="3.75" fill="#3d3d3d"/>
<circle cx="226.7" cy="314.4" r="3.75" fill="#000080"/>
<circle cx="231.1" cy="314.7" r="3.75" fill="#3d3d3d"/>
<circle cx="230.0" cy="312.7" r="3.75" fill="#000080"/>
<circle cx="202.8" cy="319.6" r="3.75" fill="#3d3d3d"/>
<circle cx="205.9" cy="314.4" r="3.75" fill="#3d3d3d"/>
<circle cx="201.9" cy="319.7" r="3.75" fill="#3d3d3d"/>
<circle cx="206.4" cy="320.3" r="3.75" fill="#000080"/>
<circle cx="206.9" cy="318.2" r="3.75" fill="#3d3d3d"/>
<circle cx="208.7" cy="318.9" r="3.75" fill="#000080"/>
<circle cx="213.4" cy="315.9" r="3.75" fill="#3d3d3d"/>
<circle cx="215.5" cy="319.4" r="3.75" fill="#000080"/>
<circle cx="214.1" cy="319.6" r="3.75" fill="#3d3d3d"/>
<circle cx="216.5" cy="317.8" r="3.75" fill="#000080"/>
<circle cx="217.2" cy="316.1" r="3.75" fill="#000080"/>
<circle cx="220.2" cy="320.0" r="3.75" fill="#3d3d3d"/>
<circle cx="221.1" cy="316.5" r="3.75" fill="#3d3d3d"/>
<circle cx="223.5" cy="315.9" r="3.75" fill="#3d3d3d"/>
<circle cx="221.3" cy="320.8" r="3.75" fill="#3d3d3d"/>
<circle cx="225.2" cy="321.5" r="3.75" fill="#000080"/>
<circle cx="227.0" cy="321.6" r="3.75" fill="#3d3d3d"/>
<circle cx="229.2" cy="318.3" r="3.75" fill="#000080"/>
<circle cx="233.8" cy="319.3" r="3.75" fill="#3d3d3d"/>
<circle cx="232.2" cy="318.9" r="3.75" fill="#3d3d3d"/>
<circle cx="234.8" cy="322.8" r="3.75" fill="#3d3d3d"/>
<circle cx="196.9" cy="323.7" r="3.75" fill="#000080"/>
<circle cx="196.7" cy="323.3" r="3.75" fill="#3d3d3d"/>
<circle cx="198.7" cy="323.5" r="3.75" fill="#000080"/>
<circle cx="194.0" cy="327.8" r="3.75" fill="#000080"/>
<circle cx="193.8" cy="330.6" r="3.75" fill="#3d3d3d"/>
<circle cx="193.7" cy="330.4" r="3.75" fill="#000080"/>
<circle cx="196.3" cy="331.7" r="3.75" fill="#000080"/>
<circle cx="196.2" cy="329.6" r="3.75" fill="#3d3d3d"/>
<circle cx="197.2" cy="333.3" r="3.75" fill="#3d3d3d"/>
<circle cx="199.6" cy="331.5" r="3.75" fill="#000080"/>
<circle cx="202.0" cy="331.4" r="3.75" fill="#000080"/>
<circle cx="204.0" cy="330.1" r="3.75" fill="#000080"/>
<circle cx="207.4" cy="333.5" r="3.75" fill="#000080"/>
<circle cx="208.7" cy="331.4" r="3.75" fill="#000080"/>
<circle cx="203.5" cy="335.9" r="3.75" fill="#000080"/>
<circle cx="202.8" cy="336.2" r="3.75" fill="#000080"/>
<circle cx="203.0" cy="339.9" r="3.75" fill="#000080"/>
<circle cx="203.6" cy="340.6" r="3.75" fill="#000080"/>
<circle cx="216.1" cy="337.6" r="3.75" fill="#000080"/>
<circle cx="217.9" cy="334.3" r="3.75" fill="#3d3d3d"/>
<circle cx="214.3" cy="337.8" r="3.75" fill="#000080"/>
<circle cx="217.5" cy="335.8" r="3.75" fill="#3d3d3d"/>
<circle cx="217.3" cy="336.6" r="3.75" fill="#3d3d3d"/>
<circle cx="221.7" cy="336.2" r="3.75" fill="#3d3d3d"/>
<circle cx="212.7" cy="337.1" r="3.75" fill="#3d3d3d"/>
<circle cx="214.7" cy="334.0" r="3.75" fill="#000080"/>
<circle cx="213.8" cy="333.9" r="3.75" fill="#000080"/>
<circle cx="170.6" cy="347.8" r="3.75" fill="#3d3d3d"/>
<circle cx="168.6" cy="346.3" r="3.75" fill="#000080"/>
<circle cx="171.8" cy="345.1" r="3.75" fill="#3d3d3d"/>
<circle cx="164.2" cy="350.8" r="3.75" fill="#000080"/>
<circle cx="160.9" cy="349.2" r="3.75" fill="#000080"/>
<circle cx="164.3" cy="348.0" r="3.75" fill="#3d3d3d"/>
<circle cx="173.2" cy="345.2" r="3.75" fill="#000080"/>
<circle cx="174.3" cy="344.1" r="3.75" fill="#3d3d3d"/>
<circle cx="176.1" cy="344.7" r="3.75" fill="#3d3d3d"/>
<circle cx="179.4" cy="347.3" r="3.75" fill="#3d3d3d"/>
<circle cx="181.5" cy="348.4" r="3.75" fill="#3d3d3d"/>
<circle cx="183.4" cy="349.6" r="3.75" fill="#3d3d3d"/>
<circle cx="188.6" cy="349.9" r="3.75" fill="#3d3d3d"/>
<circle cx="184.2" cy="349.4" r="3.75" fill="#000080"/>
<circle cx="183.4" cy="344.5" r="3.75" fill="#000080"/>
<circle cx="192.7" cy="347.4" r="3.75" fill="#000080"/>
<circle cx="189.4" cy="347.3" r="3.75" fill="#3d3d3d"/>
<circle cx="190.7" cy="346.8" r="3.75" fill="#000080"/>
<circle cx="195.7" cy="351.3" r="3.75" fill="#000080"/>
<circle cx="194.6" cy="353.6" r="3.75" fill="#000080"/>
<circle cx="196.4" cy="353.6" r="3.75" fill="#000080"/>
<circle cx="181.6" cy="353.6" r="3.75" fill="#000080"/>
<circle cx="185.1" cy="353.0" r="3.75" fill="#000080"/>
<circle cx="183.9" cy="351.9" r="3.75" fill="#000080"/>
<circle cx="166.5" cy="353.3" r="3.75" fill="#3d3d3d"/>
<circle cx="168.6" cy="351.2" r="3.75" fill="#3d3d3d"/>
<circle cx="168.8" cy="353.6" r="3.75" fill="#000080"/>
<circle cx="175.3" cy="353.6" r="3.75" fill="#000080"/>
<circle cx="178.8" cy="353.6" r="3.75" fill="#000080"/>
<circle cx="177.6" cy="352.1" r="3.75" fill="#000080"/>
<circle cx="438.3" cy="317.4" r="3.75" fill="#000080"/>
<circle cx="438.8" cy="317.3" r="3.75" fill="#000080"/>
<circle cx="435.7" cy="317.7" r="3.75" fill="#000080"/>
<circle cx="445.9" cy="314.3" r="3.75" fill="#000080"/>
<circle cx="441.2" cy="318.3" r="3.75" fill="#3d3d3d"/>
<circle cx="445.2" cy="315.9" r="3.75" fill="#000080"/>
<circle cx="450.4" cy="320.8" r="3.75" fill="#000080"/>
<circle cx="447.3" cy="319.9" r="3.75" fill="#3d3d3d"/>
<circle cx="448.2" cy="321.2" r="3.75" fill="#3d3d3d"/>
<circle cx="441.3" cy="323.7" r="3.75" fill="#000080"/>
<circle cx="441.7" cy="325.2" r="3.75" fill="#3d3d3d"/>
<circle cx="446.9" cy="323.0" r="3.75" fill="#000080"/>
<circle cx="447.9" cy="325.4" r="3.75" fill="#3d3d3d"/>
<circle cx="451.7" cy="324.7" r="3.75" fill="#000080"/>
<circle cx="446.1" cy="325.7" r="3.75" fill="#3d3d3d"/>
<circle cx="452.3" cy="316.0" r="3.75" fill="#3d3d3d"/>
<circle cx="455.7" cy="316.6" r="3.75" fill="#3d3d3d"/>
<circle cx="451.9" cy="321.1" r="3.75" fill="#000080"/>
<circle cx="455.8" cy="308.4" r="3.75" fill="#3d3d3d"/>
<circle cx="460.4" cy="305.3" r="3.75" fill="#3d3d3d"/>
<circle cx="460.7" cy="308.4" r="3.75" fill="#3d3d3d"/>
<circle cx="463.3" cy="301.0" r="3.75" fill="#000080"/>
<circle cx="463.2" cy="303.2" r="3.75" fill="#000080"/>
<circle cx="460.3" cy="306.2" r="3.75" fill="#000080"/>
<circle cx="485.2" cy="313.1" r="3.75" fill="#000080"/>
<circle cx="490.4" cy="313.4" r="3.75" fill="#000080"/>
<circle cx="489.8" cy="314.0" r="3.75" fill="#3d3d3d"/>
<circle cx="494.2" cy="316.3" r="3.75" fill="#000080"/>
<circle cx="494.7" cy="318.5" r="3.75" fill="#3d3d3d"/>
<circle cx="492.0" cy="320.7" r="3.75" fill="#000080"/>
<circle cx="492.2" cy="325.6" r="3.75" fill="#3d3d3d"/>
<circle cx="490.6" cy="326.5" r="3.75" fill="#3d3d3d"/>
<circle cx="493.1" cy="325.2" r="3.75" fill="#000080"/>
<circle cx="481.1" cy="323.2" r="3.75" fill="#3d3d3d"/>
<circle cx="486.0" cy="319.4" r="3.75" fill="#000080"/>
<circle cx="487.0" cy="322.4" r="3.75" fill="#000080"/>
<circle cx="451.1" cy="336.4" r="3.75" fill="#000080"/>
<circle cx="451.5" cy="337.9" r="3.75" fill="#000080"/>
<circle cx="454.8" cy="338.7" r="3.75" fill="#000080"/>
<circle cx="443.9" cy="339.1" r="3.75" fill="#3d3d3d"/>
<circle cx="447.7" cy="342.4" r="3.75" fill="#3d3d3d"/>
<circle cx="444.2" cy="342.5" r="3.75" fill="#000080"/>
<circle cx="452.4" cy="344.6" r="3.75" fill="#000080"/>
<circle cx="452.3" cy="346.0" r="3.75" fill="#3d3d3d"/>
<circle cx="452.7" cy="343.3" r="3.75" fill="#000080"/>
<circle cx="447.5" cy="350.4" r="3.75" fill="#3d3d3d"/>
<circle cx="448.7" cy="351.2" r="3.75" fill="#3d3d3d"/>
<circle cx="447.8" cy="349.7" r="3.75" fill="#3d3d3d"/>
<circle cx="454.1" cy="345.7" r="3.75" fill="#000080"/>
<circle cx="457.8" cy="346.9" r="3.75" fill="#000080"/>
<circle cx="457.9" cy="348.8" r="3.75" fill="#3d3d3d"/>
<circle cx="459.4" cy="352.5" r="3.75" fill="#3d3d3d"/>
<circle cx="459.1" cy="349.9" r="3.75" fill="#000080"/>
<circle cx="456.9" cy="348.2" r="3.75" fill="#000080"/>
<circle cx="472.0" cy="330.1" r="3.75" fill="#3d3d3d"/>
<circle cx="470.1" cy="331.0" r="3.75" fill="#000080"/>
<circle cx="467.8" cy="333.9" r="3.75" fill="#3d3d3d"/>
<circle cx="481.4" cy="315.5" r="3.75" fill="#3d3d3d"/>
<circle cx="481.7" cy="315.3" r="3.75" fill="#000080"/>
<circle cx="484.1" cy="311.9" r="3.75" fill="#3d3d3d"/>
<circle cx="498.9" cy="327.2" r="3.75" fill="#3d3d3d"/>
<circle cx="496.2" cy="323.6" r="3.75" fill="#000080"/>
<circle cx="495.3" cy="327.7" r="3.75" fill="#000080"/>
<circle cx="500.7" cy="319.0" r="3.75" fill="#000080"/>
<circle cx="495.7" cy="314.4" r="3.75" fill="#3d3d3d"/>
<circle cx="496.0" cy="313.5" r="3.75" fill="#3d3d3d"/>
<circle cx="498.1" cy="349.8" r="3.75" fill="#000080"/>
<circle cx="498.4" cy="347.5" r="3.75" fill="#000080"/>
<circle cx="495.1" cy="347.8" r="3.75" fill="#000080"/>
<circle cx="497.1" cy="353.4" r="3.75" fill="#000080"/>
<circle cx="501.6" cy="353.6" r="3.75" fill="#000080"/>
<circle cx="498.3" cy="351.0" r="3.75" fill="#3d3d3d"/>
<circle cx="576.8" cy="290.0" r="3.75" fill="#000080"/>
<circle cx="572.1" cy="290.8" r="3.75" fill="#3d3d3d"/>
<circle cx="576.2" cy="293.7" r="3.75" fill="#000080"/>
<circle cx="578.4" cy="297.3" r="3.75" fill="#3d3d3d"/>
<circle cx="579.7" cy="293.4" r="3.75" fill="#000080"/>
<circle cx="578.2" cy="298.7" r="3.75" fill="#3d3d3d"/>
<circle cx="509.0" cy="317.2" r="3.75" fill="#000080"/>
<circle cx="507.8" cy="315.6" r="3.75" fill="#000080"/>
<circle cx="507.9" cy="316.6" r="3.75" fill="#3d3d3d"/>
<circle cx="502.7" cy="318.2" r="3.75" fill="#3d3d3d"/>
<circle cx="501.3" cy="321.7" r="3.75" fill="#000080"/>
<circle cx="501.4" cy="322.9" r="3.75" fill="#3d3d3d"/>
<circle cx="521.9" cy="322.6" r="3.75" fill="#3d3d3d"/>
<circle cx="516.8" cy="320.1" r="3.75" fill="#000080"/>
<circle cx="521.9" cy="322.4" r="3.75" fill="#3d3d3d"/>
<circle cx="512.2" cy="323.8" r="3.75" fill="#000080"/>
<circle cx="512.4" cy="325.6" r="3.75" fill="#000080"/>
<circle cx="510.7" cy="322.1" r="3.75" fill="#3d3d3d"/>
<circle cx="557.8" cy="322.7" r="3.75" fill="#000080"/>
<circle cx="555.9" cy="324.3" r="3.75" fill="#000080"/>
<circle cx="556.0" cy="326.8" r="3.75" fill="#3d3d3d"/>
<circle cx="567.1" cy="296.8" r="3.75" fill="#3d3d3d"/>
<circle cx="571.8" cy="294.5" r="3.75" fill="#3d3d3d"/>
<circle cx="566.4" cy="299.2" r="3.75" fill="#000080"/>
<circle cx="582.1" cy="327.6" r="3.75" fill="#000080"/>
<circle cx="582.4" cy="326.0" r="3.75" fill="#3d3d3d"/>
<circle cx="587.1" cy="330.7" r="3.75" fill="#3d3d3d"/>
<circle cx="506.3" cy="322.3" r="3.75" fill="#000080"/>
<circle cx="506.0" cy="324.9" r="3.75" fill="#000080"/>
<circle cx="511.9" cy="320.7" r="3.75" fill="#3d3d3d"/>
<circle cx="513.7" cy="327.3" r="3.75" fill="#000080"/>
<circle cx="516.9" cy="329.6" r="3.75" fill="#3d3d3d"/>
<circle cx="514.3" cy="331.9" r="3.75" fill="#3d3d3d"/>
<circle cx="519.6" cy="324.3" r="3.75" fill="#3d3d3d"/>
<circle cx="520.9" cy="327.8" r="3.75" fill="#3d3d3d"/>
<circle cx="516.5" cy="324.0" r="3.75" fill="#3d3d3d"/>
<circle cx="513.2" cy="334.0" r="3.75" fill="#000080"/>
<circle cx="514.0" cy="336.6" r="3.75" fill="#3d3d3d"/>
<circle cx="513.8" cy="333.6" r="3.75" fill="#000080"/>
<circle cx="520.6" cy="342.2" r="3.75" fill="#3d3d3d"/>
<circle cx="516.3" cy="344.6" r="3.75" fill="#000080"/>
<circle cx="521.3" cy="344.9" r="3.75" fill="#3d3d3d"/>
<circle cx="507.2" cy="345.2" r="3.75" fill="#000080"/>
<circle cx="512.7" cy="341.3" r="3.75" fill="#000080"/>
<circle cx="512.4" cy="341.9" r="3.75" fill="#3d3d3d"/>
<circle cx="506.5" cy="349.2" r="3.75" fill="#3d3d3d"/>
<circle cx="507.5" cy="348.3" r="3.75" fill="#3d3d3d"/>
<circle cx="504.9" cy="349.9" r="3.75" fill="#000080"/>
<circle cx="517.1" cy="347.5" r="3.75" fill="#000080"/>
<circle cx="514.0" cy="350.1" r="3.75" fill="#000080"/>
<circle cx="517.1" cy="351.3" r="3.75" fill="#3d3d3d"/>
<circle cx="522.2" cy="350.3" r="3.75" fill="#000080"/>
<circle cx="519.0" cy="352.9" r="3.75" fill="#000080"/>
<circle cx="520.1" cy="347.7" r="3.75" fill="#3d3d3d"/>
<circle cx="505.0" cy="349.5" r="3.75" fill="#3d3d3d"/>
<circle cx="504.2" cy="350.5" r="3.75" fill="#3d3d3d"/>
<circle cx="503.6" cy="352.7" r="3.75" fill="#3d3d3d"/>
<circle cx="510.1" cy="350.6" r="3.75" fill="#000080"/>
<circle cx="510.2" cy="350.3" r="3.75" fill="#000080"/>
<circle cx="508.8" cy="353.0" r="3.75" fill="#3d3d3d"/>
<circle cx="512.3" cy="352.5" r="3.75" fill="#3d3d3d"/>
<circle cx="515.3" cy="353.6" r="3.75" fill="#3d3d3d"/>
<circle cx="515.2" cy="353.6" r="3.75" fill="#3d3d3d"/>
<circle cx="522.7" cy="353.6" r="3.75" fill="#3d3d3d"/>
<circle cx="520.1" cy="353.6" r="3.75" fill="#3d3d3d"/>
<circle cx="520.0" cy="353.6" r="3.75" fill="#000080"/>
<circle cx="525.5" cy="350.7" r="3.75" fill="#000080"/>
<circle cx="526.1" cy="353.6" r="3.75" fill="#3d3d3d"/>
<circle cx="529.2" cy="353.6" r="3.75" fill="#000080"/>
<circle cx="529.5" cy="353.1" r="3.75" fill="#000080"/>
<circle cx="535.2" cy="351.5" r="3.75" fill="#000080"/>
<circle cx="533.2" cy="352.2" r="3.75" fill="#3d3d3d"/>
<circle cx="520.8" cy="337.9" r="3.75" fill="#000080"/>
<circle cx="520.5" cy="336.1" r="3.75" fill="#000080"/>
<circle cx="525.3" cy="340.9" r="3.75" fill="#000080"/>
<circle cx="524.1" cy="334.0" r="3.75" fill="#000080"/>
<circle cx="519.1" cy="332.5" r="3.75" fill="#000080"/>
<circle cx="523.2" cy="330.3" r="3.75" fill="#3d3d3d"/>
<circle cx="585.2" cy="349.3" r="3.75" fill="#000080"/>
<circle cx="582.6" cy="348.2" r="3.75" fill="#3d3d3d"/>
<circle cx="581.1" cy="347.4" r="3.75" fill="#000080"/>
<circle cx="577.1" cy="353.6" r="3.75" fill="#000080"/>
<circle cx="579.6" cy="352.4" r="3.75" fill="#000080"/>
<circle cx="579.7" cy="351.6" r="3.75" fill="#000080"/>
<circle cx="616.2" cy="312.9" r="3.75" fill="#3d3d3d"/>
<circle cx="617.2" cy="312.6" r="3.75" fill="#3d3d3d"/>
<circle cx="618.9" cy="316.2" r="3.75" fill="#3d3d3d"/>
<circle cx="577.8" cy="329.8" r="3.75" fill="#000080"/>
<circle cx="578.7" cy="328.7" r="3.75" fill="#3d3d3d"/>
<circle cx="578.1" cy="328.7" r="3.75" fill="#000080"/>
<circle cx="615.5" cy="296.3" r="3.75" fill="#3d3d3d"/>
<circle cx="616.4" cy="298.5" r="3.75" fill="#000080"/>
<circle cx="616.2" cy="300.2" r="3.75" fill="#3d3d3d"/>
<circle cx="614.5" cy="303.8" r="3.75" fill="#3d3d3d"/>
<circle cx="617.3" cy="302.6" r="3.75" fill="#3d3d3d"/>
<circle cx="612.0" cy="301.3" r="3.75" fill="#000080"/>
<circle cx="612.3" cy="305.7" r="3.75" fill="#000080"/>
<circle cx="612.3" cy="309.7" r="3.75" fill="#3d3d3d"/>
<circle cx="611.0" cy="311.0" r="3.75" fill="#3d3d3d"/>
<circle cx="616.4" cy="308.8" r="3.75" fill="#000080"/>
<circle cx="619.7" cy="310.5" r="3.75" fill="#3d3d3d"/>
<circle cx="620.7" cy="309.9" r="3.75" fill="#000080"/>
<circle cx="626.0" cy="308.4" r="3.75" fill="#000080"/>
<circle cx="626.3" cy="308.1" r="3.75" fill="#000080"/>
<circle cx="622.1" cy="309.0" r="3.75" fill="#000080"/>
<circle cx="630.6" cy="310.3" r="3.75" fill="#3d3d3d"/>
<circle cx="631.9" cy="310.2" r="3.75" fill="#000080"/>
<circle cx="630.7" cy="312.0" r="3.75" fill="#3d3d3d"/>
<circle cx="620.8" cy="313.9" r="3.75" fill="#000080"/>
<circle cx="623.0" cy="312.9" r="3.75" fill="#000080"/>
<circle cx="621.9" cy="313.5" r="3.75" fill="#3d3d3d"/>
<circle cx="619.0" cy="320.7" r="3.75" fill="#3d3d3d"/>
<circle cx="616.8" cy="316.7" r="3.75" fill="#000080"/>
<circle cx="614.9" cy="319.1" r="3.75" fill="#3d3d3d"/>
<circle cx="608.6" cy="324.1" r="3.75" fill="#000080"/>
<circle cx="613.4" cy="323.6" r="3.75" fill="#3d3d3d"/>
<circle cx="609.3" cy="321.1" r="3.75" fill="#000080"/>
<circle cx="614.3" cy="330.0" r="3.75" fill="#000080"/>
<circle cx="613.3" cy="329.5" r="3.75" fill="#3d3d3d"/>
<circle cx="617.0" cy="330.0" r="3.75" fill="#3d3d3d"/>
<circle cx="617.5" cy="322.3" r="3.75" fill="#000080"/>
<circle cx="620.5" cy="323.5" r="3.75" fill="#3d3d3d"/>
<circle cx="623.0" cy="322.9" r="3.75" fill="#000080"/>
<circle cx="625.3" cy="324.5" r="3.75" fill="#3d3d3d"/>
<circle cx="624.7" cy="323.4" r="3.75" fill="#3d3d3d"/>
<circle cx="623.3" cy="324.4" r="3.75" fill="#3d3d3d"/>
<circle cx="629.0" cy="317.7" r="3.75" fill="#000080"/>
<circle cx="630.1" cy="322.0" r="3.75" fill="#000080"/>
<circle cx="631.4" cy="319.6" r="3.75" fill="#000080"/>
<circle cx="630.5" cy="326.0" r="3.75" fill="#3d3d3d"/>
<circle cx="629.9" cy="324.1" r="3.75" fill="#000080"/>
<circle cx="632.5" cy="325.1" r="3.75" fill="#000080"/>
<circle cx="626.8" cy="326.2" r="3.75" fill="#000080"/>
<circle cx="627.8" cy="327.8" r="3.75" fill="#3d3d3d"/>
<circle cx="622.8" cy="327.7" r="3.75" fill="#000080"/>
<circle cx="620.6" cy="332.9" r="3.75" fill="#000080"/>
<circle cx="620.1" cy="332.2" r="3.75" fill="#3d3d3d"/>
<circle cx="621.0" cy="332.0" r="3.75" fill="#3d3d3d"/>
<circle cx="614.7" cy="334.3" r="3.75" fill="#000080"/>
<circle cx="612.0" cy="336.4" r="3.75" fill="#3d3d3d"/>
<circle cx="611.6" cy="332.8" r="3.75" fill="#3d3d3d"/>
<circle cx="623.8" cy="333.4" r="3.75" fill="#3d3d3d"/>
<circle cx="628.5" cy="335.3" r="3.75" fill="#3d3d3d"/>
<circle cx="625.6" cy="334.1" r="3.75" fill="#3d3d3d"/>
<circle cx="635.8" cy="333.8" r="3.75" fill="#3d3d3d"/>
<circle cx="632.9" cy="334.0" r="3.75" fill="#000080"/>
<circle cx="630.4" cy="335.9" r="3.75" fill="#3d3d3d"/>
<circle cx="629.2" cy="340.1" r="3.75" fill="#000080"/>
<circle cx="629.1" cy="338.4" r="3.75" fill="#000080"/>
<circle cx="630.4" cy="340.4" r="3.75" fill="#000080"/>
<circle cx="620.8" cy="339.1" r="3.75" fill="#3d3d3d"/>
<circle cx="620.3" cy="340.0" r="3.75" fill="#3d3d3d"/>
<circle cx="623.4" cy="336.2" r="3.75" fill="#000080"/>
<circle cx="611.8" cy="337.3" r="3.75" fill="#3d3d3d"/>
<circle cx="611.4" cy="339.6" r="3.75" fill="#000080"/>
<circle cx="612.9" cy="338.5" r="3.75" fill="#3d3d3d"/>
<circle cx="608.5" cy="343.4" r="3.75" fill="#3d3d3d"/>
<circle cx="610.3" cy="344.1" r="3.75" fill="#000080"/>
<circle cx="609.9" cy="344.1" r="3.75" fill="#3d3d3d"/>
<circle cx="616.7" cy="347.6" r="3.75" fill="#3d3d3d"/>
<circle cx="617.0" cy="346.2" r="3.75" fill="#3d3d3d"/>
<circle cx="617.8" cy="346.4" r="3.75" fill="#3d3d3d"/>
<circle cx="632.5" cy="349.0" r="3.75" fill="#3d3d3d"/>
<circle cx="629.4" cy="348.5" r="3.75" fill="#3d3d3d"/>
<circle cx="633.3" cy="345.4" r="3.75" fill="#3d3d3d"/>
<circle cx="614.2" cy="341.1" r="3.75" fill="#000080"/>
<circle cx="611.8" cy="343.9" r="3.75" fill="#000080"/>
<circle cx="616.7" cy="343.2" r="3.75" fill="#3d3d3d"/>
<circle cx="605.2" cy="350.7" r="3.75" fill="#3d3d3d"/>
<circle cx="609.2" cy="347.8" r="3.75" fill="#3d3d3d"/>
<circle cx="607.1" cy="348.7" r="3.75" fill="#000080"/>
<circle cx="610.5" cy="352.5" r="3.75" fill="#000080"/>
<circle cx="610.0" cy="350.9" r="3.75" fill="#000080"/>
<circle cx="609.2" cy="353.6" r="3.75" fill="#3d3d3d"/>
<circle cx="618.2" cy="349.2" r="3.75" fill="#3d3d3d"/>
<circle cx="616.2" cy="351.5" r="3.75" fill="#000080"/>
<circle cx="614.3" cy="350.4" r="3.75" fill="#3d3d3d"/>
<circle cx="620.6" cy="352.8" r="3.75" fill="#3d3d3d"/>
<circle cx="622.4" cy="353.6" r="3.75" fill="#3d3d3d"/>
<circle cx="625.5" cy="353.6" r="3.75" fill="#000080"/>
<circle cx="627.5" cy="349.5" r="3.75" fill="#3d3d3d"/>
<circle cx="630.0" cy="351.4" r="3.75" fill="#000080"/>
<circle cx="629.9" cy="353.5" r="3.75" fill="#3d3d3d"/>
<circle cx="635.5" cy="349.9" r="3.75" fill="#3d3d3d"/>
<circle cx="631.3" cy="348.5" r="3.75" fill="#000080"/>
<circle cx="634.8" cy="352.1" r="3.75" fill="#000080"/>
<circle cx="631.9" cy="342.2" r="3.75" fill="#3d3d3d"/>
<circle cx="633.5" cy="343.5" r="3.75" fill="#3d3d3d"/>
<circle cx="633.6" cy="345.0" r="3.75" fill="#3d3d3d"/>
<circle cx="637.0" cy="338.7" r="3.75" fill="#3d3d3d"/>
<circle cx="633.2" cy="337.9" r="3.75" fill="#000080"/>
<circle cx="633.8" cy="335.3" r="3.75" fill="#000080"/>
<circle cx="578.5" cy="334.9" r="3.75" fill="#000080"/>
<circle cx="577.7" cy="333.6" r="3.75" fill="#000080"/>
<circle cx="581.9" cy="334.4" r="3.75" fill="#3d3d3d"/>
<circle cx="586.5" cy="332.1" r="3.75" fill="#3d3d3d"/>
<circle cx="591.9" cy="330.6" r="3.75" fill="#3d3d3d"/>
<circle cx="591.3" cy="330.2" r="3.75" fill="#000080"/>
<circle cx="581.9" cy="353.6" r="3.75" fill="#000080"/>
<circle cx="584.8" cy="353.6" r="3.75" fill="#3d3d3d"/>
<circle cx="586.4" cy="351.8" r="3.75" fill="#3d3d3d"/>
<circle cx="525.1" cy="314.9" r="3.75" fill="#000080"/>
<circle cx="526.2" cy="317.1" r="3.75" fill="#000080"/>
<circle cx="521.6" cy="313.7" r="3.75" fill="#000080"/>
<circle cx="326.2" cy="146.8" r="3.75" fill="#8C8C8C"/>
<circle cx="337.2" cy="137.7" r="3.75" fill="#8C8C8C"/>
<circle cx="373.6" cy="124.3" r="3.75" fill="#8C8C8C"/>
<circle cx="372.6" cy="146.1" r="3.75" fill="#8C8C8C"/>
<circle cx="370.1" cy="160.1" r="3.75" fill="#8C8C8C"/>
<circle cx="363.3" cy="170.7" r="3.75" fill="#8C8C8C"/>
<circle cx="326.5" cy="273.3" r="3.75" fill="#8C8C8C"/>
<circle cx="371.6" cy="292.0" r="3.75" fill="#8C8C8C"/>
<circle cx="349.0" cy="341.5" r="3.75" fill="#8C8C8C"/>
<circle cx="339.9" cy="350.1" r="3.75" fill="#8C8C8C"/>
<circle cx="371.1" cy="349.3" r="3.75" fill="#8C8C8C"/>
<circle cx="425.8" cy="225.8" r="3.75" fill="#8C8C8C"/>
<circle cx="422.1" cy="237.6" r="3.75" fill="#8C8C8C"/>
<circle cx="423.6" cy="239.0" r="3.75" fill="#8C8C8C"/>
<circle cx="426.5" cy="244.2" r="3.75" fill="#8C8C8C"/>
<circle cx="427.2" cy="310.8" r="3.75" fill="#8C8C8C"/>
<circle cx="433.1" cy="322.6" r="3.75" fill="#8C8C8C"/>
<circle cx="429.5" cy="330.9" r="3.75" fill="#8C8C8C"/>
<circle cx="424.3" cy="336.8" r="3.75" fill="#8C8C8C"/>
<circle cx="422.8" cy="351.5" r="3.75" fill="#8C8C8C"/>
<circle cx="431.7" cy="350.8" r="3.75" fill="#8C8C8C"/>
<circle cx="438.3" cy="353.8" r="3.75" fill="#8C8C8C"/>
<circle cx="510.9" cy="179.7" r="3.75" fill="#8C8C8C"/>
<circle cx="510.0" cy="241.5" r="3.75" fill="#8C8C8C"/>
<circle cx="511.0" cy="263.3" r="3.75" fill="#8C8C8C"/>
<circle cx="552.3" cy="336.1" r="3.75" fill="#8C8C8C"/>
<circle cx="627.4" cy="316.4" r="3.75" fill="#8C8C8C"/>
<circle cx="387.6" cy="149.0" r="3.75" fill="#000080"/>
<circle cx="129.7" cy="246.9" r="3.75" fill="#000080"/>
<circle cx="108.6" cy="283.8" r="3.75" fill="#000080"/>
<circle cx="112.3" cy="283.3" r="3.75" fill="#000080"/>
<circle cx="116.0" cy="283.0" r="3.75" fill="#000080"/>
<circle cx="118.9" cy="286.7" r="3.75" fill="#000080"/>
<circle cx="105.2" cy="291.1" r="3.75" fill="#000080"/>
<circle cx="119.6" cy="294.8" r="3.75" fill="#000080"/>
<circle cx="123.0" cy="291.1" r="3.75" fill="#000080"/>
<circle cx="132.2" cy="289.6" r="3.75" fill="#000080"/>
<circle cx="139.5" cy="289.6" r="3.75" fill="#000080"/>
<circle cx="156.5" cy="289.6" r="3.75" fill="#000080"/>
<circle cx="81.1" cy="293.3" r="3.75" fill="#000080"/>
<circle cx="78.4" cy="295.5" r="3.75" fill="#000080"/>
<circle cx="108.6" cy="311.4" r="3.75" fill="#3d3d3d"/>
<circle cx="112.3" cy="312.1" r="3.75" fill="#3d3d3d"/>
<circle cx="85.0" cy="346.0" r="3.75" fill="#3d3d3d"/>
<circle cx="84.3" cy="353.3" r="3.75" fill="#3d3d3d"/>
<circle cx="95.3" cy="345.2" r="3.75" fill="#3d3d3d"/>
<circle cx="99.8" cy="346.0" r="3.75" fill="#3d3d3d"/>
<circle cx="132.9" cy="324.6" r="3.75" fill="#3d3d3d"/>
<circle cx="136.6" cy="326.1" r="3.75" fill="#3d3d3d"/>
<circle cx="132.2" cy="351.1" r="3.75" fill="#3d3d3d"/>
<circle cx="136.6" cy="349.6" r="3.75" fill="#3d3d3d"/>
<circle cx="141.0" cy="351.1" r="3.75" fill="#3d3d3d"/>
<circle cx="148.4" cy="351.1" r="3.75" fill="#3d3d3d"/>
<circle cx="152.8" cy="351.9" r="3.75" fill="#3d3d3d"/>
<circle cx="139.5" cy="328.3" r="3.75" fill="#3d3d3d"/>
<circle cx="84.3" cy="304.7" r="3.75" fill="#000080"/>
<circle cx="96.1" cy="304.0" r="3.75" fill="#000080"/>
<circle cx="104.2" cy="305.5" r="3.75" fill="#000080"/>
<circle cx="77.7" cy="308.4" r="3.75" fill="#000080"/>
<circle cx="71.8" cy="315.0" r="3.75" fill="#000080"/>
<circle cx="71.0" cy="321.7" r="3.75" fill="#000080"/>
<circle cx="70.3" cy="326.8" r="3.75" fill="#000080"/>
<circle cx="75.5" cy="329.0" r="3.75" fill="#000080"/>
<circle cx="91.7" cy="314.3" r="3.75" fill="#000080"/>
<circle cx="95.3" cy="314.3" r="3.75" fill="#000080"/>
<circle cx="101.2" cy="310.6" r="3.75" fill="#000080"/>
<circle cx="97.6" cy="321.7" r="3.75" fill="#000080"/>
<circle cx="100.5" cy="325.3" r="3.75" fill="#000080"/>
<circle cx="104.2" cy="318.0" r="3.75" fill="#000080"/>
<circle cx="104.2" cy="327.6" r="3.75" fill="#000080"/>
<circle cx="106.4" cy="331.2" r="3.75" fill="#000080"/>
<circle cx="120.4" cy="309.1" r="3.75" fill="#000080"/>
<circle cx="124.8" cy="312.1" r="3.75" fill="#000080"/>
<circle cx="129.2" cy="315.0" r="3.75" fill="#000080"/>
<circle cx="132.2" cy="312.1" r="3.75" fill="#000080"/>
<circle cx="118.9" cy="314.3" r="3.75" fill="#000080"/>
<circle cx="121.9" cy="319.5" r="3.75" fill="#000080"/>
<circle cx="125.5" cy="321.7" r="3.75" fill="#000080"/>
<circle cx="116.0" cy="329.8" r="3.75" fill="#000080"/>
<circle cx="118.2" cy="332.7" r="3.75" fill="#000080"/>
<circle cx="111.5" cy="334.2" r="3.75" fill="#000080"/>
<circle cx="143.9" cy="319.5" r="3.75" fill="#000080"/>
<circle cx="142.5" cy="326.1" r="3.75" fill="#000080"/>
<circle cx="146.9" cy="327.6" r="3.75" fill="#000080"/>
<circle cx="151.3" cy="324.6" r="3.75" fill="#000080"/>
<circle cx="154.3" cy="329.8" r="3.75" fill="#000080"/>
<circle cx="157.2" cy="321.7" r="3.75" fill="#000080"/>
<circle cx="158.7" cy="315.0" r="3.75" fill="#000080"/>
<circle cx="148.4" cy="332.7" r="3.75" fill="#000080"/>
<circle cx="139.5" cy="332.7" r="3.75" fill="#000080"/>
<circle cx="133.6" cy="332.7" r="3.75" fill="#000080"/>
<circle cx="129.2" cy="334.2" r="3.75" fill="#000080"/>
<circle cx="127.0" cy="337.1" r="3.75" fill="#000080"/>
<circle cx="87.2" cy="334.2" r="3.75" fill="#000080"/>
<circle cx="82.1" cy="337.9" r="3.75" fill="#000080"/>
<circle cx="72.5" cy="337.9" r="3.75" fill="#000080"/>
<circle cx="96.1" cy="334.9" r="3.75" fill="#000080"/>
<circle cx="100.5" cy="337.1" r="3.75" fill="#000080"/>
<circle cx="104.2" cy="335.7" r="3.75" fill="#000080"/>
<circle cx="120.4" cy="338.6" r="3.75" fill="#000080"/>
<circle cx="124.8" cy="341.5" r="3.75" fill="#000080"/>
<circle cx="114.5" cy="344.5" r="3.75" fill="#000080"/>
<circle cx="108.6" cy="345.2" r="3.75" fill="#000080"/>
<circle cx="130.7" cy="341.5" r="3.75" fill="#000080"/>
<circle cx="136.6" cy="346.0" r="3.75" fill="#000080"/>
<circle cx="141.0" cy="347.4" r="3.75" fill="#000080"/>
<circle cx="145.4" cy="338.6" r="3.75" fill="#000080"/>
<circle cx="149.8" cy="334.2" r="3.75" fill="#000080"/>
<circle cx="155.7" cy="334.2" r="3.75" fill="#000080"/>
<circle cx="158.7" cy="340.1" r="3.75" fill="#000080"/>
<circle cx="155.7" cy="346.0" r="3.75" fill="#000080"/>
<circle cx="72.5" cy="346.0" r="3.75" fill="#000080"/>
<circle cx="79.1" cy="346.0" r="3.75" fill="#000080"/>
<circle cx="89.5" cy="346.7" r="3.75" fill="#000080"/>
<circle cx="91.7" cy="353.3" r="3.75" fill="#000080"/>
<circle cx="96.1" cy="351.9" r="3.75" fill="#000080"/>
<circle cx="104.2" cy="346.7" r="3.75" fill="#000080"/>
<circle cx="111.5" cy="352.6" r="3.75" fill="#000080"/>
<circle cx="120.4" cy="349.6" r="3.75" fill="#000080"/>
<circle cx="124.8" cy="351.9" r="3.75" fill="#000080"/>
<circle cx="128.5" cy="348.9" r="3.75" fill="#000080"/>
<circle cx="158.7" cy="350.4" r="3.75" fill="#000080"/>
<circle cx="154.3" cy="348.9" r="3.75" fill="#000080"/>
<circle cx="202.7" cy="268.0" r="3.75" fill="#000080"/>
<circle cx="228.0" cy="265.1" r="3.75" fill="#000080"/>
<circle cx="233.3" cy="265.1" r="3.75" fill="#000080"/>
<circle cx="196.1" cy="275.4" r="3.75" fill="#000080"/>
<circle cx="168.4" cy="288.9" r="3.75" fill="#000080"/>
<circle cx="188.0" cy="289.6" r="3.75" fill="#000080"/>
<circle cx="176.2" cy="299.2" r="3.75" fill="#000080"/>
<circle cx="192.4" cy="299.2" r="3.75" fill="#000080"/>
<circle cx="238.8" cy="299.2" r="3.75" fill="#000080"/>
<circle cx="174.7" cy="304.7" r="3.75" fill="#3d3d3d"/>
<circle cx="171.8" cy="309.1" r="3.75" fill="#3d3d3d"/>
<circle cx="182.1" cy="309.1" r="3.75" fill="#3d3d3d"/>
<circle cx="220.4" cy="305.5" r="3.75" fill="#3d3d3d"/>
<circle cx="223.3" cy="309.1" r="3.75" fill="#3d3d3d"/>
<circle cx="196.1" cy="317.2" r="3.75" fill="#3d3d3d"/>
<circle cx="199.8" cy="318.0" r="3.75" fill="#3d3d3d"/>
<circle cx="226.3" cy="315.8" r="3.75" fill="#3d3d3d"/>
<circle cx="232.2" cy="324.6" r="3.75" fill="#3d3d3d"/>
<circle cx="174.0" cy="338.6" r="3.75" fill="#3d3d3d"/>
<circle cx="179.1" cy="338.6" r="3.75" fill="#3d3d3d"/>
<circle cx="185.0" cy="340.1" r="3.75" fill="#3d3d3d"/>
<circle cx="212.3" cy="335.7" r="3.75" fill="#3d3d3d"/>
<circle cx="221.9" cy="346.0" r="3.75" fill="#3d3d3d"/>
<circle cx="226.3" cy="346.0" r="3.75" fill="#3d3d3d"/>
<circle cx="230.7" cy="344.5" r="3.75" fill="#3d3d3d"/>
<circle cx="164.4" cy="351.9" r="3.75" fill="#3d3d3d"/>
<circle cx="174.7" cy="353.3" r="3.75" fill="#3d3d3d"/>
<circle cx="189.5" cy="353.3" r="3.75" fill="#3d3d3d"/>
<circle cx="170.3" cy="301.8" r="3.75" fill="#000080"/>
<circle cx="182.1" cy="312.1" r="3.75" fill="#000080"/>
<circle cx="179.1" cy="313.6" r="3.75" fill="#000080"/>
<circle cx="165.9" cy="313.6" r="3.75" fill="#000080"/>
<circle cx="162.2" cy="316.5" r="3.75" fill="#000080"/>
<circle cx="168.8" cy="318.0" r="3.75" fill="#000080"/>
<circle cx="164.4" cy="321.7" r="3.75" fill="#000080"/>
<circle cx="181.4" cy="320.9" r="3.75" fill="#000080"/>
<circle cx="168.1" cy="326.1" r="3.75" fill="#000080"/>
<circle cx="162.2" cy="329.8" r="3.75" fill="#000080"/>
<circle cx="193.1" cy="309.9" r="3.75" fill="#000080"/>
<circle cx="198.3" cy="309.1" r="3.75" fill="#000080"/>
<circle cx="202.0" cy="312.1" r="3.75" fill="#000080"/>
<circle cx="193.9" cy="313.6" r="3.75" fill="#000080"/>
<circle cx="214.5" cy="311.4" r="3.75" fill="#000080"/>
<circle cx="218.9" cy="312.1" r="3.75" fill="#000080"/>
<circle cx="224.8" cy="306.2" r="3.75" fill="#000080"/>
<circle cx="230.0" cy="306.2" r="3.75" fill="#000080"/>
<circle cx="233.6" cy="309.1" r="3.75" fill="#000080"/>
<circle cx="239.5" cy="310.6" r="3.75" fill="#000080"/>
<circle cx="238.8" cy="314.3" r="3.75" fill="#000080"/>
<circle cx="229.2" cy="313.6" r="3.75" fill="#000080"/>
<circle cx="203.4" cy="317.2" r="3.75" fill="#000080"/>
<circle cx="207.1" cy="318.0" r="3.75" fill="#000080"/>
<circle cx="214.5" cy="318.0" r="3.75" fill="#000080"/>
<circle cx="218.9" cy="318.0" r="3.75" fill="#000080"/>
<circle cx="223.3" cy="318.0" r="3.75" fill="#000080"/>
<circle cx="227.7" cy="318.7" r="3.75" fill="#000080"/>
<circle cx="232.9" cy="321.7" r="3.75" fill="#000080"/>
<circle cx="196.1" cy="323.9" r="3.75" fill="#000080"/>
<circle cx="192.4" cy="328.3" r="3.75" fill="#000080"/>
<circle cx="195.3" cy="332.0" r="3.75" fill="#000080"/>
<circle cx="201.2" cy="332.0" r="3.75" fill="#000080"/>
<circle cx="205.7" cy="334.2" r="3.75" fill="#000080"/>
<circle cx="202.7" cy="338.6" r="3.75" fill="#000080"/>
<circle cx="199.8" cy="346.7" r="3.75" fill="#000080"/>
<circle cx="207.1" cy="345.2" r="3.75" fill="#000080"/>
<circle cx="216.7" cy="334.9" r="3.75" fill="#000080"/>
<circle cx="220.4" cy="337.1" r="3.75" fill="#000080"/>
<circle cx="227.0" cy="336.4" r="3.75" fill="#000080"/>
<circle cx="236.6" cy="337.1" r="3.75" fill="#000080"/>
<circle cx="239.5" cy="334.2" r="3.75" fill="#000080"/>
<circle cx="238.8" cy="345.2" r="3.75" fill="#000080"/>
<circle cx="234.4" cy="351.9" r="3.75" fill="#000080"/>
<circle cx="222.6" cy="353.3" r="3.75" fill="#000080"/>
<circle cx="214.5" cy="335.7" r="3.75" fill="#000080"/>
<circle cx="168.8" cy="346.0" r="3.75" fill="#000080"/>
<circle cx="162.2" cy="348.9" r="3.75" fill="#000080"/>
<circle cx="174.7" cy="346.0" r="3.75" fill="#000080"/>
<circle cx="180.6" cy="347.4" r="3.75" fill="#000080"/>
<circle cx="186.5" cy="347.4" r="3.75" fill="#000080"/>
<circle cx="191.7" cy="348.9" r="3.75" fill="#000080"/>
<circle cx="193.9" cy="353.3" r="3.75" fill="#000080"/>
<circle cx="183.6" cy="353.3" r="3.75" fill="#000080"/>
<circle cx="168.8" cy="353.3" r="3.75" fill="#000080"/>
<circle cx="178.4" cy="352.6" r="3.75" fill="#000080"/>
<circle cx="332.8" cy="349.0" r="3.75" fill="#000080"/>
<circle cx="357.1" cy="330.6" r="3.75" fill="#000080"/>
<circle cx="352.4" cy="335.8" r="3.75" fill="#000080"/>
<circle cx="370.4" cy="328.7" r="3.75" fill="#000080"/>
<circle cx="368.9" cy="337.6" r="3.75" fill="#000080"/>
<circle cx="368.2" cy="345.7" r="3.75" fill="#000080"/>
<circle cx="365.2" cy="348.6" r="3.75" fill="#000080"/>
<circle cx="363.0" cy="350.8" r="3.75" fill="#000080"/>
<circle cx="354.9" cy="351.5" r="3.75" fill="#000080"/>
<circle cx="347.6" cy="351.3" r="3.75" fill="#000080"/>
<circle cx="350.1" cy="352.3" r="3.75" fill="#000080"/>
<circle cx="429.0" cy="230.2" r="3.75" fill="#000080"/>
<circle cx="426.5" cy="256.7" r="3.75" fill="#000080"/>
<circle cx="429.0" cy="262.6" r="3.75" fill="#000080"/>
<circle cx="453.8" cy="261.6" r="3.75" fill="#000080"/>
<circle cx="446.4" cy="268.5" r="3.75" fill="#000080"/>
<circle cx="447.1" cy="253.8" r="3.75" fill="#000080"/>
<circle cx="447.1" cy="281.4" r="3.75" fill="#000080"/>
<circle cx="442.0" cy="293.1" r="3.75" fill="#000080"/>
<circle cx="453.8" cy="293.1" r="3.75" fill="#000080"/>
<circle cx="484.7" cy="280.6" r="3.75" fill="#000080"/>
<circle cx="433.9" cy="312.3" r="3.75" fill="#000080"/>
<circle cx="437.6" cy="316.7" r="3.75" fill="#000080"/>
<circle cx="425.8" cy="320.4" r="3.75" fill="#000080"/>
<circle cx="423.6" cy="324.8" r="3.75" fill="#000080"/>
<circle cx="430.9" cy="328.5" r="3.75" fill="#000080"/>
<circle cx="444.2" cy="316.7" r="3.75" fill="#000080"/>
<circle cx="448.6" cy="320.4" r="3.75" fill="#000080"/>
<circle cx="444.2" cy="323.3" r="3.75" fill="#000080"/>
<circle cx="448.6" cy="324.8" r="3.75" fill="#000080"/>
<circle cx="454.5" cy="318.9" r="3.75" fill="#000080"/>
<circle cx="458.9" cy="320.4" r="3.75" fill="#000080"/>
<circle cx="458.9" cy="307.1" r="3.75" fill="#000080"/>
<circle cx="461.9" cy="303.4" r="3.75" fill="#000080"/>
<circle cx="455.2" cy="308.6" r="3.75" fill="#000080"/>
<circle cx="460.4" cy="299.0" r="3.75" fill="#000080"/>
<circle cx="470.7" cy="324.8" r="3.75" fill="#000080"/>
<circle cx="479.5" cy="324.8" r="3.75" fill="#000080"/>
<circle cx="488.4" cy="316.0" r="3.75" fill="#000080"/>
<circle cx="494.3" cy="318.9" r="3.75" fill="#000080"/>
<circle cx="498.7" cy="311.5" r="3.75" fill="#000080"/>
<circle cx="491.3" cy="324.8" r="3.75" fill="#000080"/>
<circle cx="483.9" cy="320.4" r="3.75" fill="#000080"/>
<circle cx="425.8" cy="343.4" r="3.75" fill="#000080"/>
<circle cx="433.1" cy="345.7" r="3.75" fill="#000080"/>
<circle cx="435.3" cy="350.1" r="3.75" fill="#000080"/>
<circle cx="452.3" cy="336.8" r="3.75" fill="#000080"/>
<circle cx="456.7" cy="338.3" r="3.75" fill="#000080"/>
<circle cx="447.1" cy="340.5" r="3.75" fill="#000080"/>
<circle cx="450.1" cy="344.2" r="3.75" fill="#000080"/>
<circle cx="447.1" cy="348.6" r="3.75" fill="#000080"/>
<circle cx="445.7" cy="353.0" r="3.75" fill="#000080"/>
<circle cx="456.0" cy="347.1" r="3.75" fill="#000080"/>
<circle cx="458.9" cy="350.1" r="3.75" fill="#000080"/>
<circle cx="470.7" cy="330.9" r="3.75" fill="#000080"/>
<circle cx="469.2" cy="336.8" r="3.75" fill="#000080"/>
<circle cx="483.9" cy="314.7" r="3.75" fill="#000080"/>
<circle cx="481.0" cy="332.4" r="3.75" fill="#000080"/>
<circle cx="495.7" cy="325.0" r="3.75" fill="#000080"/>
<circle cx="494.3" cy="333.9" r="3.75" fill="#000080"/>
<circle cx="498.7" cy="316.2" r="3.75" fill="#000080"/>
<circle cx="473.6" cy="353.0" r="3.75" fill="#000080"/>
<circle cx="478.1" cy="351.5" r="3.75" fill="#000080"/>
<circle cx="491.3" cy="351.5" r="3.75" fill="#000080"/>
<circle cx="495.7" cy="350.1" r="3.75" fill="#000080"/>
<circle cx="498.7" cy="353.0" r="3.75" fill="#000080"/>
<circle cx="464.8" cy="351.5" r="3.75" fill="#000080"/>
<circle cx="488.4" cy="338.3" r="3.75" fill="#000080"/>
<circle cx="570.0" cy="239.0" r="3.75" fill="#000080"/>
<circle cx="522.4" cy="251.5" r="3.75" fill="#000080"/>
<circle cx="506.6" cy="252.7" r="3.75" fill="#000080"/>
<circle cx="543.4" cy="269.2" r="3.75" fill="#000080"/>
<circle cx="524.7" cy="273.3" r="3.75" fill="#000080"/>
<circle cx="519.9" cy="281.4" r="3.75" fill="#000080"/>
<circle cx="536.8" cy="286.5" r="3.75" fill="#000080"/>
<circle cx="557.4" cy="281.4" r="3.75" fill="#000080"/>
<circle cx="560.4" cy="288.7" r="3.75" fill="#000080"/>
<circle cx="573.6" cy="291.7" r="3.75" fill="#000080"/>
<circle cx="581.7" cy="291.7" r="3.75" fill="#000080"/>
<circle cx="576.6" cy="296.1" r="3.75" fill="#000080"/>
<circle cx="589.5" cy="266.6" r="3.75" fill="#000080"/>
<circle cx="589.8" cy="316.7" r="3.75" fill="#000080"/>
<circle cx="591.3" cy="324.8" r="3.75" fill="#000080"/>
<circle cx="586.9" cy="310.1" r="3.75" fill="#000080"/>
<circle cx="513.3" cy="307.1" r="3.75" fill="#000080"/>
<circle cx="510.3" cy="316.7" r="3.75" fill="#000080"/>
<circle cx="504.4" cy="320.4" r="3.75" fill="#000080"/>
<circle cx="519.1" cy="320.4" r="3.75" fill="#000080"/>
<circle cx="512.5" cy="324.8" r="3.75" fill="#000080"/>
<circle cx="521.4" cy="310.8" r="3.75" fill="#000080"/>
<circle cx="519.1" cy="293.1" r="3.75" fill="#000080"/>
<circle cx="557.4" cy="324.8" r="3.75" fill="#000080"/>
<circle cx="569.2" cy="296.8" r="3.75" fill="#000080"/>
<circle cx="583.9" cy="327.7" r="3.75" fill="#000080"/>
<circle cx="508.8" cy="323.6" r="3.75" fill="#000080"/>
<circle cx="514.7" cy="329.5" r="3.75" fill="#000080"/>
<circle cx="519.1" cy="326.5" r="3.75" fill="#000080"/>
<circle cx="505.9" cy="335.3" r="3.75" fill="#000080"/>
<circle cx="513.3" cy="335.3" r="3.75" fill="#000080"/>
<circle cx="519.1" cy="342.7" r="3.75" fill="#000080"/>
<circle cx="510.3" cy="342.7" r="3.75" fill="#000080"/>
<circle cx="502.9" cy="344.2" r="3.75" fill="#000080"/>
<circle cx="507.4" cy="348.6" r="3.75" fill="#000080"/>
<circle cx="514.7" cy="348.6" r="3.75" fill="#000080"/>
<circle cx="522.1" cy="350.1" r="3.75" fill="#000080"/>
<circle cx="502.9" cy="352.3" r="3.75" fill="#000080"/>
<circle cx="508.8" cy="353.0" r="3.75" fill="#000080"/>
<circle cx="514.7" cy="353.0" r="3.75" fill="#000080"/>
<circle cx="520.6" cy="353.0" r="3.75" fill="#000080"/>
<circle cx="526.5" cy="352.3" r="3.75" fill="#000080"/>
<circle cx="532.4" cy="353.0" r="3.75" fill="#000080"/>
<circle cx="538.3" cy="352.3" r="3.75" fill="#000080"/>
<circle cx="545.7" cy="354.5" r="3.75" fill="#000080"/>
<circle cx="523.6" cy="338.3" r="3.75" fill="#000080"/>
<circle cx="522.1" cy="331.7" r="3.75" fill="#000080"/>
<circle cx="579.5" cy="316.2" r="3.75" fill="#000080"/>
<circle cx="579.5" cy="338.3" r="3.75" fill="#000080"/>
<circle cx="582.5" cy="348.6" r="3.75" fill="#000080"/>
<circle cx="579.5" cy="353.8" r="3.75" fill="#000080"/>
<circle cx="597.2" cy="350.1" r="3.75" fill="#000080"/>
<circle cx="630.4" cy="292.1" r="3.75" fill="#3d3d3d"/>
<circle cx="618.6" cy="314.2" r="3.75" fill="#3d3d3d"/>
<circle cx="617.9" cy="286.2" r="3.75" fill="#000080"/>
<circle cx="589.1" cy="333.3" r="3.75" fill="#000080"/>
<circle cx="577.4" cy="328.9" r="3.75" fill="#000080"/>
<circle cx="617.1" cy="298.0" r="3.75" fill="#000080"/>
<circle cx="621.5" cy="299.5" r="3.75" fill="#000080"/>
<circle cx="630.4" cy="300.9" r="3.75" fill="#000080"/>
<circle cx="614.2" cy="303.9" r="3.75" fill="#000080"/>
<circle cx="612.7" cy="308.3" r="3.75" fill="#000080"/>
<circle cx="618.6" cy="309.8" r="3.75" fill="#000080"/>
<circle cx="624.5" cy="306.8" r="3.75" fill="#000080"/>
<circle cx="628.9" cy="309.8" r="3.75" fill="#000080"/>
<circle cx="633.3" cy="311.2" r="3.75" fill="#000080"/>
<circle cx="621.5" cy="314.2" r="3.75" fill="#000080"/>
<circle cx="617.1" cy="318.6" r="3.75" fill="#000080"/>
<circle cx="611.2" cy="321.5" r="3.75" fill="#000080"/>
<circle cx="609.8" cy="327.4" r="3.75" fill="#000080"/>
<circle cx="614.2" cy="328.9" r="3.75" fill="#000080"/>
<circle cx="620.1" cy="323.0" r="3.75" fill="#000080"/>
<circle cx="624.5" cy="321.5" r="3.75" fill="#000080"/>
<circle cx="628.9" cy="320.1" r="3.75" fill="#000080"/>
<circle cx="631.9" cy="326.0" r="3.75" fill="#000080"/>
<circle cx="626.0" cy="328.9" r="3.75" fill="#000080"/>
<circle cx="620.1" cy="331.9" r="3.75" fill="#000080"/>
<circle cx="614.2" cy="334.8" r="3.75" fill="#000080"/>
<circle cx="608.3" cy="333.3" r="3.75" fill="#000080"/>
<circle cx="626.0" cy="334.8" r="3.75" fill="#000080"/>
<circle cx="633.3" cy="333.3" r="3.75" fill="#000080"/>
<circle cx="630.4" cy="337.7" r="3.75" fill="#000080"/>
<circle cx="621.5" cy="337.7" r="3.75" fill="#000080"/>
<circle cx="612.7" cy="339.2" r="3.75" fill="#000080"/>
<circle cx="611.2" cy="345.7" r="3.75" fill="#3d3d3d"/>
<circle cx="615.7" cy="348.6" r="3.75" fill="#3d3d3d"/>
<circle cx="630.4" cy="347.1" r="3.75" fill="#3d3d3d"/>
<circle cx="614.2" cy="342.7" r="3.75" fill="#3d3d3d"/>
<circle cx="606.8" cy="350.1" r="3.75" fill="#000080"/>
<circle cx="611.2" cy="351.5" r="3.75" fill="#000080"/>
<circle cx="617.1" cy="351.5" r="3.75" fill="#000080"/>
<circle cx="623.0" cy="351.5" r="3.75" fill="#000080"/>
<circle cx="628.9" cy="352.3" r="3.75" fill="#000080"/>
<circle cx="633.3" cy="350.8" r="3.75" fill="#000080"/>
<circle cx="634.8" cy="344.2" r="3.75" fill="#000080"/>
<circle cx="634.8" cy="338.3" r="3.75" fill="#000080"/>
<circle cx="608.3" cy="338.3" r="3.75" fill="#000080"/>
<circle cx="580.3" cy="332.4" r="3.75" fill="#000080"/>
<circle cx="589.1" cy="329.5" r="3.75" fill="#000080"/>
<circle cx="584.7" cy="354.5" r="3.75" fill="#000080"/>
<circle cx="523.2" cy="316.3" r="3.75" fill="#000080"/>
<circle cx="554.7" cy="321.6" r="3.75" fill="#000080"/>
<circle cx="562.1" cy="323.7" r="3.75" fill="#000080"/>
<circle cx="522.1" cy="301.6" r="3.75" fill="#000080"/>
<circle cx="599.5" cy="297.7" r="3.75" fill="#000080"/>
<circle cx="599.5" cy="307.8" r="3.75" fill="#000080"/>
<circle cx="603.7" cy="310.6" r="3.75" fill="#000080"/>
<circle cx="600.3" cy="321.2" r="3.75" fill="#000080"/>
<circle cx="602.8" cy="330.5" r="3.75" fill="#000080"/>
<circle cx="600.3" cy="338.9" r="3.75" fill="#000080"/>
<circle cx="462.6" cy="283.9" r="3.75" fill="#87CEFA"/>
<circle cx="478.1" cy="294.4" r="3.75" fill="#87CEFA"/>
<circle cx="482.9" cy="291.2" r="3.75" fill="#87CEFA"/>
<circle cx="489.2" cy="290.4" r="3.75" fill="#87CEFA"/>
<circle cx="491.5" cy="291.7" r="3.75" fill="#87CEFA"/>
<circle cx="496.2" cy="297.4" r="3.75" fill="#87CEFA"/>
<circle cx="496.5" cy="289.2" r="3.75" fill="#87CEFA"/>
<circle cx="472.5" cy="298.0" r="3.75" fill="#87CEFA"/>
<circle cx="475.4" cy="299.0" r="3.75" fill="#87CEFA"/>
<circle cx="481.0" cy="301.5" r="3.75" fill="#87CEFA"/>
<circle cx="485.2" cy="301.1" r="3.75" fill="#87CEFA"/>
<circle cx="489.2" cy="304.7" r="3.75" fill="#87CEFA"/>
<circle cx="492.6" cy="306.9" r="3.75" fill="#87CEFA"/>
<circle cx="498.8" cy="305.3" r="3.75" fill="#87CEFA"/>
<circle cx="468.2" cy="303.5" r="3.75" fill="#87CEFA"/>
<circle cx="472.2" cy="303.5" r="3.75" fill="#87CEFA"/>
<circle cx="477.0" cy="305.7" r="3.75" fill="#87CEFA"/>
<circle cx="483.4" cy="307.6" r="3.75" fill="#87CEFA"/>
<circle cx="485.0" cy="308.5" r="3.75" fill="#87CEFA"/>
<circle cx="491.2" cy="308.7" r="3.75" fill="#87CEFA"/>
<circle cx="494.1" cy="308.0" r="3.75" fill="#87CEFA"/>
<circle cx="485.3" cy="343.6" r="3.75" fill="#87CEFA"/>
<circle cx="488.1" cy="344.4" r="3.75" fill="#87CEFA"/>
<circle cx="501.2" cy="314.1" r="3.75" fill="#87CEFA"/>
<circle cx="508.4" cy="284.6" r="3.75" fill="#87CEFA"/>
<circle cx="510.3" cy="291.3" r="3.75" fill="#87CEFA"/>
<circle cx="505.1" cy="295.6" r="3.75" fill="#87CEFA"/>
<circle cx="500.6" cy="301.8" r="3.75" fill="#87CEFA"/>
<circle cx="508.1" cy="304.8" r="3.75" fill="#87CEFA"/>
<circle cx="505.8" cy="310.8" r="3.75" fill="#87CEFA"/>
<circle cx="519.4" cy="305.2" r="3.75" fill="#87CEFA"/>
<circle cx="517.4" cy="297.5" r="3.75" fill="#87CEFA"/>
<circle cx="524.1" cy="297.7" r="3.75" fill="#87CEFA"/>
<circle cx="532.9" cy="290.9" r="3.75" fill="#87CEFA"/>
<circle cx="543.4" cy="316.9" r="3.75" fill="#87CEFA"/>
<circle cx="563.9" cy="326.9" r="3.75" fill="#87CEFA"/>
<circle cx="545.5" cy="339.9" r="3.75" fill="#87CEFA"/>
<circle cx="543.9" cy="343.4" r="3.75" fill="#87CEFA"/>
<circle cx="542.7" cy="350.9" r="3.75" fill="#87CEFA"/>
<circle cx="547.7" cy="343.6" r="3.75" fill="#87CEFA"/>
<circle cx="563.6" cy="336.2" r="3.75" fill="#87CEFA"/>
<circle cx="561.2" cy="334.1" r="3.75" fill="#87CEFA"/>
<circle cx="562.6" cy="343.0" r="3.75" fill="#87CEFA"/>
<circle cx="559.5" cy="348.7" r="3.75" fill="#87CEFA"/>
<circle cx="562.8" cy="353.4" r="3.75" fill="#87CEFA"/>
<circle cx="559.6" cy="352.3" r="3.75" fill="#87CEFA"/>
<circle cx="539.8" cy="347.0" r="3.75" fill="#87CEFA"/>
<circle cx="463.5" cy="299.1" r="3.75" fill="#87CEFA"/>
<circle cx="463.7" cy="299.0" r="3.75" fill="#87CEFA"/>
<circle cx="465.4" cy="298.5" r="3.75" fill="#87CEFA"/>
<circle cx="485.7" cy="296.1" r="3.75" fill="#87CEFA"/>
<circle cx="482.5" cy="298.4" r="3.75" fill="#87CEFA"/>
<circle cx="484.5" cy="299.2" r="3.75" fill="#87CEFA"/>
<circle cx="484.8" cy="300.4" r="3.75" fill="#87CEFA"/>
<circle cx="490.2" cy="299.5" r="3.75" fill="#87CEFA"/>
<circle cx="489.4" cy="297.7" r="3.75" fill="#87CEFA"/>
<circle cx="491.8" cy="298.2" r="3.75" fill="#87CEFA"/>
<circle cx="491.9" cy="298.0" r="3.75" fill="#87CEFA"/>
<circle cx="494.5" cy="299.5" r="3.75" fill="#87CEFA"/>
<circle cx="498.9" cy="300.7" r="3.75" fill="#87CEFA"/>
<circle cx="499.7" cy="292.7" r="3.75" fill="#87CEFA"/>
<circle cx="506.3" cy="291.4" r="3.75" fill="#87CEFA"/>
<circle cx="463.2" cy="297.5" r="3.75" fill="#87CEFA"/>
<circle cx="464.6" cy="299.2" r="3.75" fill="#87CEFA"/>
<circle cx="471.1" cy="312.8" r="3.75" fill="#87CEFA"/>
<circle cx="522.2" cy="313.3" r="3.75" fill="#87CEFA"/>
<circle cx="529.6" cy="294.3" r="3.75" fill="#87CEFA"/>
<circle cx="526.9" cy="310.4" r="3.75" fill="#87CEFA"/>
<circle cx="544.2" cy="317.2" r="3.75" fill="#87CEFA"/>
<circle cx="565.8" cy="331.1" r="3.75" fill="#87CEFA"/>
<circle cx="569.8" cy="336.4" r="3.75" fill="#87CEFA"/>
<circle cx="355.2" cy="120.3" r="3.75" fill="#87CEFA"/>
<circle cx="332.5" cy="144.2" r="3.75" fill="#87CEFA"/>
<circle cx="337.2" cy="146.1" r="3.75" fill="#87CEFA"/>
<circle cx="338.7" cy="144.6" r="3.75" fill="#87CEFA"/>
<circle cx="339.5" cy="140.9" r="3.75" fill="#87CEFA"/>
<circle cx="340.9" cy="136.8" r="3.75" fill="#87CEFA"/>
<circle cx="348.0" cy="132.4" r="3.75" fill="#87CEFA"/>
<circle cx="352.7" cy="131.4" r="3.75" fill="#87CEFA"/>
<circle cx="370.1" cy="132.1" r="3.75" fill="#87CEFA"/>
<circle cx="374.5" cy="128.0" r="3.75" fill="#87CEFA"/>
<circle cx="366.3" cy="136.8" r="3.75" fill="#87CEFA"/>
<circle cx="366.3" cy="141.7" r="3.75" fill="#87CEFA"/>
<circle cx="373.0" cy="136.8" r="3.75" fill="#87CEFA"/>
<circle cx="373.0" cy="142.4" r="3.75" fill="#87CEFA"/>
<circle cx="381.0" cy="144.6" r="3.75" fill="#87CEFA"/>
<circle cx="345.1" cy="162.7" r="3.75" fill="#87CEFA"/>
<circle cx="109.0" cy="253.6" r="3.75" fill="#87CEFA"/>
<circle cx="115.2" cy="252.1" r="3.75" fill="#87CEFA"/>
<circle cx="118.6" cy="252.1" r="3.75" fill="#87CEFA"/>
<circle cx="96.1" cy="283.0" r="3.75" fill="#87CEFA"/>
<circle cx="120.1" cy="282.3" r="3.75" fill="#87CEFA"/>
<circle cx="124.8" cy="282.3" r="3.75" fill="#87CEFA"/>
<circle cx="129.7" cy="281.8" r="3.75" fill="#87CEFA"/>
<circle cx="129.2" cy="285.2" r="3.75" fill="#87CEFA"/>
<circle cx="136.6" cy="285.2" r="3.75" fill="#87CEFA"/>
<circle cx="142.8" cy="284.8" r="3.75" fill="#87CEFA"/>
<circle cx="113.0" cy="288.9" r="3.75" fill="#87CEFA"/>
<circle cx="159.4" cy="286.0" r="3.75" fill="#87CEFA"/>
<circle cx="74.7" cy="299.2" r="3.75" fill="#87CEFA"/>
<circle cx="74.0" cy="304.7" r="3.75" fill="#87CEFA"/>
<circle cx="78.4" cy="304.7" r="3.75" fill="#87CEFA"/>
<circle cx="127.5" cy="304.0" r="3.75" fill="#87CEFA"/>
<circle cx="128.0" cy="306.5" r="3.75" fill="#87CEFA"/>
<circle cx="142.5" cy="309.9" r="3.75" fill="#87CEFA"/>
<circle cx="148.4" cy="312.1" r="3.75" fill="#87CEFA"/>
<circle cx="152.8" cy="308.4" r="3.75" fill="#87CEFA"/>
<circle cx="157.2" cy="306.9" r="3.75" fill="#87CEFA"/>
<circle cx="160.1" cy="305.5" r="3.75" fill="#87CEFA"/>
<circle cx="107.9" cy="323.9" r="3.75" fill="#87CEFA"/>
<circle cx="112.3" cy="322.1" r="3.75" fill="#87CEFA"/>
<circle cx="116.0" cy="321.7" r="3.75" fill="#87CEFA"/>
<circle cx="155.7" cy="329.0" r="3.75" fill="#87CEFA"/>
<circle cx="157.9" cy="334.2" r="3.75" fill="#87CEFA"/>
<circle cx="196.8" cy="252.1" r="3.75" fill="#87CEFA"/>
<circle cx="198.6" cy="252.4" r="3.75" fill="#87CEFA"/>
<circle cx="200.5" cy="252.8" r="3.75" fill="#87CEFA"/>
<circle cx="202.7" cy="252.4" r="3.75" fill="#87CEFA"/>
<circle cx="207.1" cy="252.4" r="3.75" fill="#87CEFA"/>
<circle cx="218.9" cy="249.1" r="3.75" fill="#87CEFA"/>
<circle cx="217.7" cy="253.6" r="3.75" fill="#87CEFA"/>
<circle cx="219.2" cy="254.3" r="3.75" fill="#87CEFA"/>
<circle cx="219.6" cy="257.2" r="3.75" fill="#87CEFA"/>
<circle cx="195.3" cy="279.3" r="3.75" fill="#87CEFA"/>
<circle cx="196.8" cy="279.8" r="3.75" fill="#87CEFA"/>
<circle cx="198.6" cy="279.8" r="3.75" fill="#87CEFA"/>
<circle cx="200.5" cy="279.8" r="3.75" fill="#87CEFA"/>
<circle cx="203.4" cy="280.8" r="3.75" fill="#87CEFA"/>
<circle cx="207.1" cy="279.3" r="3.75" fill="#87CEFA"/>
<circle cx="212.3" cy="279.8" r="3.75" fill="#87CEFA"/>
<circle cx="213.8" cy="279.8" r="3.75" fill="#87CEFA"/>
<circle cx="215.7" cy="280.1" r="3.75" fill="#87CEFA"/>
<circle cx="220.4" cy="275.7" r="3.75" fill="#87CEFA"/>
<circle cx="220.7" cy="281.8" r="3.75" fill="#87CEFA"/>
<circle cx="241.7" cy="283.3" r="3.75" fill="#87CEFA"/>
<circle cx="240.7" cy="289.6" r="3.75" fill="#87CEFA"/>
<circle cx="178.0" cy="288.6" r="3.75" fill="#87CEFA"/>
<circle cx="189.5" cy="288.9" r="3.75" fill="#87CEFA"/>
<circle cx="192.4" cy="291.6" r="3.75" fill="#87CEFA"/>
<circle cx="202.0" cy="299.2" r="3.75" fill="#87CEFA"/>
<circle cx="165.2" cy="299.5" r="3.75" fill="#87CEFA"/>
<circle cx="166.6" cy="307.7" r="3.75" fill="#87CEFA"/>
<circle cx="181.4" cy="305.5" r="3.75" fill="#87CEFA"/>
<circle cx="186.5" cy="304.7" r="3.75" fill="#87CEFA"/>
<circle cx="196.1" cy="304.0" r="3.75" fill="#87CEFA"/>
<circle cx="203.4" cy="302.5" r="3.75" fill="#87CEFA"/>
<circle cx="207.1" cy="304.0" r="3.75" fill="#87CEFA"/>
<circle cx="214.5" cy="304.0" r="3.75" fill="#87CEFA"/>
<circle cx="162.2" cy="334.2" r="3.75" fill="#87CEFA"/>
<circle cx="168.8" cy="335.7" r="3.75" fill="#87CEFA"/>
<circle cx="171.0" cy="337.1" r="3.75" fill="#87CEFA"/>
<circle cx="175.5" cy="330.5" r="3.75" fill="#87CEFA"/>
<circle cx="176.2" cy="334.2" r="3.75" fill="#87CEFA"/>
<circle cx="179.1" cy="337.1" r="3.75" fill="#87CEFA"/>
<circle cx="185.0" cy="333.4" r="3.75" fill="#87CEFA"/>
<circle cx="187.2" cy="338.6" r="3.75" fill="#87CEFA"/>
<circle cx="190.2" cy="339.3" r="3.75" fill="#87CEFA"/>
<circle cx="192.4" cy="340.8" r="3.75" fill="#87CEFA"/>
<circle cx="193.9" cy="343.8" r="3.75" fill="#87CEFA"/>
<circle cx="249.5" cy="339.3" r="3.75" fill="#87CEFA"/>
<circle cx="398.4" cy="250.7" r="3.75" fill="#87CEFA"/>
<circle cx="333.6" cy="292.0" r="3.75" fill="#87CEFA"/>
<circle cx="338.0" cy="294.9" r="3.75" fill="#87CEFA"/>
<circle cx="339.5" cy="291.5" r="3.75" fill="#87CEFA"/>
<circle cx="346.8" cy="292.4" r="3.75" fill="#87CEFA"/>
<circle cx="349.5" cy="292.4" r="3.75" fill="#87CEFA"/>
<circle cx="352.0" cy="292.4" r="3.75" fill="#87CEFA"/>
<circle cx="354.9" cy="292.4" r="3.75" fill="#87CEFA"/>
<circle cx="353.4" cy="297.9" r="3.75" fill="#87CEFA"/>
<circle cx="364.5" cy="292.4" r="3.75" fill="#87CEFA"/>
<circle cx="372.2" cy="293.4" r="3.75" fill="#87CEFA"/>
<circle cx="373.3" cy="297.9" r="3.75" fill="#87CEFA"/>
<circle cx="381.7" cy="297.1" r="3.75" fill="#87CEFA"/>
<circle cx="366.4" cy="302.7" r="3.75" fill="#87CEFA"/>
<circle cx="344.9" cy="306.0" r="3.75" fill="#87CEFA"/>
<circle cx="337.2" cy="309.6" r="3.75" fill="#87CEFA"/>
<circle cx="339.5" cy="315.1" r="3.75" fill="#87CEFA"/>
<circle cx="349.0" cy="311.1" r="3.75" fill="#87CEFA"/>
<circle cx="349.0" cy="316.3" r="3.75" fill="#87CEFA"/>
<circle cx="357.1" cy="310.1" r="3.75" fill="#87CEFA"/>
<circle cx="370.4" cy="323.6" r="3.75" fill="#87CEFA"/>
<circle cx="367.1" cy="333.6" r="3.75" fill="#87CEFA"/>
<circle cx="354.2" cy="345.4" r="3.75" fill="#87CEFA"/>
<circle cx="411.3" cy="224.6" r="3.75" fill="#87CEFA"/>
<circle cx="423.6" cy="242.7" r="3.75" fill="#87CEFA"/>
<circle cx="421.6" cy="255.2" r="3.75" fill="#87CEFA"/>
<circle cx="471.7" cy="239.8" r="3.75" fill="#87CEFA"/>
<circle cx="447.9" cy="257.4" r="3.75" fill="#87CEFA"/>
<circle cx="495.0" cy="258.2" r="3.75" fill="#87CEFA"/>
<circle cx="497.2" cy="263.3" r="3.75" fill="#87CEFA"/>
<circle cx="494.3" cy="268.5" r="3.75" fill="#87CEFA"/>
<circle cx="442.7" cy="279.9" r="3.75" fill="#87CEFA"/>
<circle cx="436.8" cy="286.5" r="3.75" fill="#87CEFA"/>
<circle cx="427.5" cy="288.0" r="3.75" fill="#87CEFA"/>
<circle cx="432.4" cy="294.6" r="3.75" fill="#87CEFA"/>
<circle cx="433.9" cy="302.0" r="3.75" fill="#87CEFA"/>
<circle cx="425.0" cy="302.0" r="3.75" fill="#87CEFA"/>
<circle cx="433.1" cy="306.4" r="3.75" fill="#87CEFA"/>
<circle cx="427.2" cy="316.7" r="3.75" fill="#87CEFA"/>
<circle cx="456.7" cy="282.1" r="3.75" fill="#87CEFA"/>
<circle cx="460.4" cy="282.1" r="3.75" fill="#87CEFA"/>
<circle cx="463.3" cy="284.3" r="3.75" fill="#87CEFA"/>
<circle cx="467.7" cy="289.5" r="3.75" fill="#87CEFA"/>
<circle cx="476.6" cy="291.7" r="3.75" fill="#87CEFA"/>
<circle cx="479.5" cy="295.3" r="3.75" fill="#87CEFA"/>
<circle cx="484.7" cy="290.2" r="3.75" fill="#87CEFA"/>
<circle cx="488.4" cy="291.7" r="3.75" fill="#87CEFA"/>
<circle cx="492.8" cy="291.7" r="3.75" fill="#87CEFA"/>
<circle cx="496.5" cy="295.3" r="3.75" fill="#87CEFA"/>
<circle cx="497.2" cy="290.2" r="3.75" fill="#87CEFA"/>
<circle cx="470.7" cy="299.8" r="3.75" fill="#87CEFA"/>
<circle cx="475.1" cy="299.8" r="3.75" fill="#87CEFA"/>
<circle cx="479.5" cy="301.2" r="3.75" fill="#87CEFA"/>
<circle cx="483.9" cy="302.7" r="3.75" fill="#87CEFA"/>
<circle cx="488.4" cy="304.2" r="3.75" fill="#87CEFA"/>
<circle cx="492.8" cy="305.7" r="3.75" fill="#87CEFA"/>
<circle cx="497.2" cy="307.1" r="3.75" fill="#87CEFA"/>
<circle cx="469.2" cy="304.2" r="3.75" fill="#87CEFA"/>
<circle cx="473.6" cy="305.7" r="3.75" fill="#87CEFA"/>
<circle cx="478.1" cy="307.1" r="3.75" fill="#87CEFA"/>
<circle cx="482.5" cy="307.9" r="3.75" fill="#87CEFA"/>
<circle cx="486.9" cy="309.3" r="3.75" fill="#87CEFA"/>
<circle cx="491.3" cy="309.3" r="3.75" fill="#87CEFA"/>
<circle cx="495.7" cy="310.1" r="3.75" fill="#87CEFA"/>
<circle cx="456.0" cy="302.7" r="3.75" fill="#87CEFA"/>
<circle cx="453.0" cy="326.3" r="3.75" fill="#87CEFA"/>
<circle cx="495.7" cy="279.1" r="3.75" fill="#87CEFA"/>
<circle cx="491.3" cy="280.6" r="3.75" fill="#87CEFA"/>
<circle cx="486.9" cy="327.0" r="3.75" fill="#87CEFA"/>
<circle cx="446.8" cy="330.2" r="3.75" fill="#87CEFA"/>
<circle cx="440.9" cy="344.2" r="3.75" fill="#87CEFA"/>
<circle cx="464.8" cy="342.7" r="3.75" fill="#87CEFA"/>
<circle cx="475.4" cy="344.2" r="3.75" fill="#87CEFA"/>
<circle cx="476.6" cy="347.9" r="3.75" fill="#87CEFA"/>
<circle cx="482.5" cy="339.0" r="3.75" fill="#87CEFA"/>
<circle cx="487.6" cy="341.2" r="3.75" fill="#87CEFA"/>
<circle cx="486.9" cy="346.4" r="3.75" fill="#87CEFA"/>
<circle cx="484.7" cy="351.5" r="3.75" fill="#87CEFA"/>
<circle cx="499.4" cy="341.2" r="3.75" fill="#87CEFA"/>
<circle cx="500.1" cy="311.8" r="3.75" fill="#87CEFA"/>
<circle cx="507.1" cy="238.3" r="3.75" fill="#87CEFA"/>
<circle cx="506.6" cy="255.7" r="3.75" fill="#87CEFA"/>
<circle cx="503.2" cy="258.9" r="3.75" fill="#87CEFA"/>
<circle cx="510.3" cy="267.7" r="3.75" fill="#87CEFA"/>
<circle cx="511.8" cy="272.5" r="3.75" fill="#87CEFA"/>
<circle cx="508.8" cy="279.9" r="3.75" fill="#87CEFA"/>
<circle cx="505.9" cy="274.0" r="3.75" fill="#87CEFA"/>
<circle cx="508.1" cy="286.5" r="3.75" fill="#87CEFA"/>
<circle cx="504.4" cy="283.6" r="3.75" fill="#87CEFA"/>
<circle cx="510.3" cy="291.7" r="3.75" fill="#87CEFA"/>
<circle cx="506.6" cy="295.3" r="3.75" fill="#87CEFA"/>
<circle cx="513.3" cy="299.0" r="3.75" fill="#87CEFA"/>
<circle cx="502.9" cy="299.8" r="3.75" fill="#87CEFA"/>
<circle cx="507.4" cy="304.2" r="3.75" fill="#87CEFA"/>
<circle cx="503.7" cy="310.1" r="3.75" fill="#87CEFA"/>
<circle cx="520.6" cy="306.4" r="3.75" fill="#87CEFA"/>
<circle cx="519.1" cy="299.8" r="3.75" fill="#87CEFA"/>
<circle cx="522.8" cy="296.1" r="3.75" fill="#87CEFA"/>
<circle cx="526.5" cy="287.2" r="3.75" fill="#87CEFA"/>
<circle cx="533.9" cy="292.4" r="3.75" fill="#87CEFA"/>
<circle cx="539.0" cy="289.5" r="3.75" fill="#87CEFA"/>
<circle cx="543.9" cy="282.8" r="3.75" fill="#87CEFA"/>
<circle cx="549.3" cy="286.5" r="3.75" fill="#87CEFA"/>
<circle cx="561.9" cy="302.0" r="3.75" fill="#87CEFA"/>
<circle cx="568.5" cy="301.2" r="3.75" fill="#87CEFA"/>
<circle cx="564.8" cy="311.5" r="3.75" fill="#87CEFA"/>
<circle cx="572.2" cy="316.0" r="3.75" fill="#87CEFA"/>
<circle cx="576.6" cy="316.7" r="3.75" fill="#87CEFA"/>
<circle cx="581.0" cy="315.2" r="3.75" fill="#87CEFA"/>
<circle cx="583.9" cy="322.6" r="3.75" fill="#87CEFA"/>
<circle cx="580.3" cy="305.7" r="3.75" fill="#87CEFA"/>
<circle cx="585.4" cy="304.2" r="3.75" fill="#87CEFA"/>
<circle cx="588.4" cy="296.8" r="3.75" fill="#87CEFA"/>
<circle cx="583.9" cy="299.8" r="3.75" fill="#87CEFA"/>
<circle cx="550.1" cy="313.0" r="3.75" fill="#87CEFA"/>
<circle cx="542.7" cy="315.2" r="3.75" fill="#87CEFA"/>
<circle cx="505.2" cy="328.5" r="3.75" fill="#87CEFA"/>
<circle cx="550.1" cy="324.8" r="3.75" fill="#87CEFA"/>
<circle cx="561.9" cy="328.5" r="3.75" fill="#87CEFA"/>
<circle cx="575.1" cy="324.8" r="3.75" fill="#87CEFA"/>
<circle cx="544.2" cy="338.3" r="3.75" fill="#87CEFA"/>
<circle cx="547.1" cy="333.9" r="3.75" fill="#87CEFA"/>
<circle cx="542.7" cy="344.2" r="3.75" fill="#87CEFA"/>
<circle cx="544.2" cy="349.3" r="3.75" fill="#87CEFA"/>
<circle cx="548.6" cy="344.2" r="3.75" fill="#87CEFA"/>
<circle cx="563.3" cy="336.8" r="3.75" fill="#87CEFA"/>
<circle cx="559.6" cy="335.3" r="3.75" fill="#87CEFA"/>
<circle cx="564.8" cy="342.7" r="3.75" fill="#87CEFA"/>
<circle cx="558.9" cy="347.1" r="3.75" fill="#87CEFA"/>
<circle cx="561.9" cy="351.5" r="3.75" fill="#87CEFA"/>
<circle cx="557.4" cy="352.3" r="3.75" fill="#87CEFA"/>
<circle cx="566.3" cy="351.5" r="3.75" fill="#87CEFA"/>
<circle cx="572.9" cy="329.5" r="3.75" fill="#87CEFA"/>
<circle cx="576.6" cy="333.9" r="3.75" fill="#87CEFA"/>
<circle cx="573.6" cy="338.3" r="3.75" fill="#87CEFA"/>
<circle cx="586.9" cy="336.8" r="3.75" fill="#87CEFA"/>
<circle cx="591.3" cy="334.6" r="3.75" fill="#87CEFA"/>
<circle cx="592.0" cy="339.8" r="3.75" fill="#87CEFA"/>
<circle cx="588.4" cy="342.7" r="3.75" fill="#87CEFA"/>
<circle cx="589.8" cy="347.9" r="3.75" fill="#87CEFA"/>
<circle cx="591.3" cy="353.0" r="3.75" fill="#87CEFA"/>
<circle cx="585.4" cy="350.1" r="3.75" fill="#87CEFA"/>
<circle cx="586.9" cy="354.5" r="3.75" fill="#87CEFA"/>
<circle cx="526.5" cy="323.6" r="3.75" fill="#87CEFA"/>
<circle cx="528.0" cy="341.2" r="3.75" fill="#87CEFA"/>
<circle cx="539.8" cy="348.6" r="3.75" fill="#87CEFA"/>
<circle cx="615.7" cy="290.6" r="3.75" fill="#87CEFA"/>
<circle cx="618.6" cy="291.1" r="3.75" fill="#87CEFA"/>
<circle cx="621.5" cy="291.4" r="3.75" fill="#87CEFA"/>
<circle cx="625.2" cy="291.4" r="3.75" fill="#87CEFA"/>
<circle cx="628.2" cy="291.1" r="3.75" fill="#87CEFA"/>
<circle cx="631.1" cy="291.1" r="3.75" fill="#87CEFA"/>
<circle cx="634.8" cy="291.1" r="3.75" fill="#87CEFA"/>
<circle cx="633.3" cy="304.6" r="3.75" fill="#87CEFA"/>
<circle cx="612.0" cy="314.5" r="3.75" fill="#87CEFA"/>
<circle cx="572.9" cy="334.8" r="3.75" fill="#87CEFA"/>
<circle cx="575.9" cy="309.8" r="3.75" fill="#87CEFA"/>
<circle cx="622.3" cy="344.9" r="3.75" fill="#87CEFA"/>
<circle cx="584.7" cy="341.2" r="3.75" fill="#87CEFA"/>
<circle cx="581.0" cy="336.8" r="3.75" fill="#87CEFA"/>
<circle cx="574.4" cy="348.6" r="3.75" fill="#87CEFA"/>
<circle cx="464.5" cy="298.7" r="3.75" fill="#87CEFA"/>
<circle cx="465.7" cy="298.1" r="3.75" fill="#87CEFA"/>
<circle cx="467.0" cy="298.7" r="3.75" fill="#87CEFA"/>
<circle cx="483.4" cy="298.1" r="3.75" fill="#87CEFA"/>
<circle cx="484.7" cy="298.7" r="3.75" fill="#87CEFA"/>
<circle cx="485.9" cy="298.1" r="3.75" fill="#87CEFA"/>
<circle cx="487.2" cy="298.7" r="3.75" fill="#87CEFA"/>
<circle cx="488.5" cy="298.1" r="3.75" fill="#87CEFA"/>
<circle cx="489.7" cy="298.7" r="3.75" fill="#87CEFA"/>
<circle cx="491.0" cy="298.1" r="3.75" fill="#87CEFA"/>
<circle cx="492.3" cy="298.7" r="3.75" fill="#87CEFA"/>
<circle cx="494.8" cy="298.7" r="3.75" fill="#87CEFA"/>
<circle cx="497.3" cy="298.7" r="3.75" fill="#87CEFA"/>
<circle cx="501.3" cy="293.7" r="3.75" fill="#87CEFA"/>
<circle cx="506.6" cy="291.1" r="3.75" fill="#87CEFA"/>
<circle cx="463.9" cy="298.9" r="3.75" fill="#87CEFA"/>
<circle cx="466.6" cy="300.0" r="3.75" fill="#87CEFA"/>
<circle cx="471.3" cy="310.5" r="3.75" fill="#87CEFA"/>
<circle cx="520.3" cy="311.6" r="3.75" fill="#87CEFA"/>
<circle cx="527.4" cy="292.1" r="3.75" fill="#87CEFA"/>
<circle cx="526.3" cy="308.9" r="3.75" fill="#87CEFA"/>
<circle cx="535.8" cy="299.5" r="3.75" fill="#87CEFA"/>
<circle cx="537.9" cy="308.9" r="3.75" fill="#87CEFA"/>
<circle cx="546.3" cy="316.3" r="3.75" fill="#87CEFA"/>
<circle cx="565.3" cy="332.1" r="3.75" fill="#87CEFA"/>
<circle cx="569.5" cy="334.2" r="3.75" fill="#87CEFA"/>
<circle cx="578.9" cy="321.6" r="3.75" fill="#87CEFA"/>
<circle cx="574.7" cy="320.5" r="3.75" fill="#87CEFA"/>
<circle cx="578.9" cy="301.6" r="3.75" fill="#87CEFA"/>
<circle cx="587.4" cy="308.9" r="3.75" fill="#87CEFA"/>
<circle cx="540.0" cy="320.5" r="3.75" fill="#87CEFA"/>
<circle cx="131.4" cy="267.7" r="3.75" fill="#00FF00"/>
<circle cx="430.2" cy="222.1" r="3.75" fill="#00FF00"/>
<circle cx="478.5" cy="242.7" r="3.75" fill="#00FF00"/>
<circle cx="500.1" cy="267.0" r="3.75" fill="#00FF00"/>
<circle cx="490.6" cy="275.5" r="3.75" fill="#00FF00"/>
<circle cx="454.5" cy="298.3" r="3.75" fill="#00FF00"/>
<circle cx="466.6" cy="320.1" r="3.75" fill="#00FF00"/>
<circle cx="455.8" cy="165.0" r="3.75" fill="#00FF00"/>
<circle cx="538.6" cy="227.5" r="3.75" fill="#00FF00"/>
<circle cx="530.5" cy="265.8" r="3.75" fill="#00FF00"/>
<circle cx="572.5" cy="282.8" r="3.75" fill="#00FF00"/>
<circle cx="589.5" cy="272.5" r="3.75" fill="#00FF00"/>
<circle cx="589.1" cy="276.9" r="3.75" fill="#00FF00"/>
<circle cx="589.1" cy="280.6" r="3.75" fill="#00FF00"/>
<circle cx="587.6" cy="290.9" r="3.75" fill="#00FF00"/>
<circle cx="587.6" cy="301.2" r="3.75" fill="#00FF00"/>
<circle cx="573.3" cy="299.8" r="3.75" fill="#00FF00"/>
<circle cx="574.4" cy="304.9" r="3.75" fill="#00FF00"/>
<circle cx="542.7" cy="293.1" r="3.75" fill="#00FF00"/>
<circle cx="549.3" cy="294.2" r="3.75" fill="#00FF00"/>
<circle cx="543.4" cy="299.0" r="3.75" fill="#00FF00"/>
<circle cx="543.4" cy="304.2" r="3.75" fill="#00FF00"/>
<circle cx="549.6" cy="304.2" r="3.75" fill="#00FF00"/>
<circle cx="529.5" cy="296.1" r="3.75" fill="#00FF00"/>
<circle cx="530.2" cy="299.0" r="3.75" fill="#00FF00"/>
<circle cx="534.6" cy="305.9" r="3.75" fill="#00FF00"/>
<circle cx="532.7" cy="313.3" r="3.75" fill="#00FF00"/>
<circle cx="527.7" cy="318.9" r="3.75" fill="#00FF00"/>
<circle cx="531.7" cy="319.6" r="3.75" fill="#00FF00"/>
<circle cx="533.9" cy="324.1" r="3.75" fill="#00FF00"/>
<circle cx="539.0" cy="321.1" r="3.75" fill="#00FF00"/>
<circle cx="543.4" cy="326.3" r="3.75" fill="#00FF00"/>
<circle cx="549.3" cy="319.6" r="3.75" fill="#00FF00"/>
<circle cx="559.2" cy="311.5" r="3.75" fill="#00FF00"/>
<circle cx="564.1" cy="318.6" r="3.75" fill="#00FF00"/>
<circle cx="569.2" cy="329.2" r="3.75" fill="#00FF00"/>
<circle cx="529.5" cy="329.2" r="3.75" fill="#00FF00"/>
<circle cx="529.5" cy="331.7" r="3.75" fill="#00FF00"/>
<circle cx="535.3" cy="329.5" r="3.75" fill="#00FF00"/>
<circle cx="537.6" cy="334.6" r="3.75" fill="#00FF00"/>
<circle cx="533.1" cy="336.8" r="3.75" fill="#00FF00"/>
<circle cx="530.2" cy="346.8" r="3.75" fill="#00FF00"/>
<circle cx="535.3" cy="345.9" r="3.75" fill="#00FF00"/>
<circle cx="549.3" cy="349.3" r="3.75" fill="#00FF00"/>
<circle cx="558.5" cy="341.7" r="3.75" fill="#00FF00"/>
<circle cx="573.6" cy="343.4" r="3.75" fill="#00FF00"/>
<circle cx="570.0" cy="344.9" r="3.75" fill="#00FF00"/>
<circle cx="567.0" cy="349.3" r="3.75" fill="#00FF00"/>
<circle cx="571.9" cy="352.7" r="3.75" fill="#00FF00"/>
<circle cx="373.3" cy="264.4" r="3.75" fill="#FFA500"/>
<circle cx="406.5" cy="258.5" r="3.75" fill="#FFA500"/>
<circle cx="411.5" cy="244.2" r="3.75" fill="#FFA500"/>
<circle cx="419.4" cy="242.7" r="3.75" fill="#FFA500"/>
<circle cx="443.7" cy="237.3" r="3.75" fill="#FFA500"/>
<circle cx="439.5" cy="244.9" r="3.75" fill="#FFA500"/>
<circle cx="445.2" cy="252.3" r="3.75" fill="#FFA500"/>
<circle cx="443.4" cy="257.9" r="3.75" fill="#FFA500"/>
<circle cx="494.3" cy="207.4" r="3.75" fill="#FFA500"/>
<circle cx="496.5" cy="208.1" r="3.75" fill="#FFA500"/>
<circle cx="499.4" cy="208.8" r="3.75" fill="#FFA500"/>
<circle cx="498.7" cy="218.4" r="3.75" fill="#FFA500"/>
<circle cx="498.7" cy="221.4" r="3.75" fill="#FFA500"/>
<circle cx="463.3" cy="244.2" r="3.75" fill="#FFA500"/>
<circle cx="464.8" cy="256.0" r="3.75" fill="#FFA500"/>
<circle cx="463.3" cy="260.4" r="3.75" fill="#FFA500"/>
<circle cx="467.7" cy="259.6" r="3.75" fill="#FFA500"/>
<circle cx="463.3" cy="266.3" r="3.75" fill="#FFA500"/>
<circle cx="426.5" cy="266.3" r="3.75" fill="#FFA500"/>
<circle cx="446.8" cy="270.0" r="3.75" fill="#FFA500"/>
<circle cx="446.4" cy="272.5" r="3.75" fill="#FFA500"/>
<circle cx="419.1" cy="302.7" r="3.75" fill="#FFA500"/>
<circle cx="444.9" cy="302.0" r="3.75" fill="#FFA500"/>
<circle cx="446.4" cy="310.1" r="3.75" fill="#FFA500"/>
<circle cx="467.7" cy="307.1" r="3.75" fill="#FFA500"/>
<circle cx="467.7" cy="294.2" r="3.75" fill="#FFA500"/>
<circle cx="474.4" cy="285.8" r="3.75" fill="#FFA500"/>
<circle cx="470.7" cy="279.1" r="3.75" fill="#FFA500"/>
<circle cx="466.3" cy="274.7" r="3.75" fill="#FFA500"/>
<circle cx="463.3" cy="270.3" r="3.75" fill="#FFA500"/>
<circle cx="475.8" cy="316.0" r="3.75" fill="#FFA500"/>
<circle cx="471.4" cy="317.4" r="3.75" fill="#FFA500"/>
<circle cx="475.8" cy="324.1" r="3.75" fill="#FFA500"/>
<circle cx="463.3" cy="327.7" r="3.75" fill="#FFA500"/>
<circle cx="497.9" cy="286.5" r="3.75" fill="#FFA500"/>
<circle cx="466.6" cy="335.6" r="3.75" fill="#FFA500"/>
<circle cx="475.8" cy="334.2" r="3.75" fill="#FFA500"/>
<circle cx="443.9" cy="334.2" r="3.75" fill="#FFA500"/>
<circle cx="468.5" cy="349.3" r="3.75" fill="#FFA500"/>
<circle cx="370.1" cy="73.0" r="3.75" fill="#FF0000"/>
<circle cx="373.3" cy="104.6" r="3.75" fill="#FF0000"/>
<circle cx="381.1" cy="226.8" r="3.75" fill="#FF0000"/>
<circle cx="453.8" cy="238.6" r="3.75" fill="#FF0000"/>
<circle cx="455.2" cy="239.8" r="3.75" fill="#FF0000"/>
<circle cx="461.9" cy="236.1" r="3.75" fill="#FF0000"/>
<circle cx="463.3" cy="238.3" r="3.75" fill="#FF0000"/>
<circle cx="465.2" cy="238.6" r="3.75" fill="#FF0000"/>
<circle cx="446.8" cy="245.4" r="3.75" fill="#FF0000"/>
<circle cx="463.0" cy="250.1" r="3.75" fill="#FF0000"/>
<circle cx="470.7" cy="250.8" r="3.75" fill="#FF0000"/>
<circle cx="473.6" cy="250.1" r="3.75" fill="#FF0000"/>
<circle cx="476.6" cy="248.6" r="3.75" fill="#FF0000"/>
<circle cx="479.5" cy="250.8" r="3.75" fill="#FF0000"/>
<circle cx="483.2" cy="249.8" r="3.75" fill="#FF0000"/>
<circle cx="482.5" cy="253.0" r="3.75" fill="#FF0000"/>
<circle cx="476.6" cy="256.7" r="3.75" fill="#FF0000"/>
<circle cx="473.6" cy="264.8" r="3.75" fill="#FF0000"/>
<circle cx="478.1" cy="264.8" r="3.75" fill="#FF0000"/>
<circle cx="469.2" cy="269.2" r="3.75" fill="#FF0000"/>
<circle cx="424.3" cy="268.5" r="3.75" fill="#FF0000"/>
<circle cx="424.6" cy="295.3" r="3.75" fill="#FF0000"/>
<circle cx="464.5" cy="289.2" r="3.75" fill="#FF0000"/>
<circle cx="475.6" cy="282.1" r="3.75" fill="#FF0000"/>
<circle cx="472.2" cy="267.4" r="3.75" fill="#FF0000"/>
<circle cx="475.1" cy="272.5" r="3.75" fill="#FF0000"/>
<circle cx="472.2" cy="274.0" r="3.75" fill="#FF0000"/>
</g>
<path d="M352.7 66.9 L357.3 71.5 L352.7 76.1 L348.1 71.5 Z" fill="#7D26CD" stroke="#222" stroke-width="0.6"/>
<text x="352.4" y="64.0" font-size="11.7" text-anchor="middle" fill="#000" stroke="#000" stroke-width="0.15">rs68148149</text>
<g stroke="#555" stroke-width="1" fill="none">
<path d="M68.5 353.3 V36.9"/>
<path d="M68.5 353.3 h-8"/>
<path d="M68.5 308.1 h-8"/>
<path d="M68.5 262.9 h-8"/>
<path d="M68.5 217.7 h-8"/>
<path d="M68.5 172.5 h-8"/>
<path d="M68.5 127.3 h-8"/>
<path d="M68.5 82.1 h-8"/>
<path d="M68.5 36.9 h-8"/>
</g>
<g class="t" font-size="11.8" fill="#444" text-anchor="end">
<text x="54.5" y="357.5">0</text>
<text x="54.5" y="312.3">2</text>
<text x="54.5" y="267.1">4</text>
<text x="54.5" y="221.9">6</text>
<text x="54.5" y="176.7">8</text>
<text x="54.5" y="131.5">10</text>
<text x="54.5" y="86.3">12</text>
<text x="54.5" y="41.1">14</text>
</g>
<text transform="translate(28.1,197.9) rotate(-90)" class="t" font-size="11.7" fill="#444" text-anchor="middle">−log<tspan font-size="8.2" dy="2.6">10</tspan><tspan dy="-2.6">(p−value)</tspan></text>
<g stroke="#4848ff" stroke-width="0.85" fill="none">
<path d="M636.5 353.2 V43.2"/>
<path d="M636.5 353.2 h8"/>
<path d="M636.5 291.2 h8"/>
<path d="M636.5 229.2 h8"/>
<path d="M636.5 167.2 h8"/>
<path d="M636.5 105.2 h8"/>
<path d="M636.5 43.2 h8"/>
</g>
<g class="bt" font-size="11.8" fill="#2020ff">
<text x="651.4" y="357.4">0</text>
<text x="651.4" y="295.4">20</text>
<text x="651.4" y="233.4">40</text>
<text x="651.4" y="171.4">60</text>
<text x="651.4" y="109.4">80</text>
<text x="651.4" y="47.4">100</text>
</g>
<text transform="translate(674.7,198.4) rotate(90)" class="bt" font-size="11.7" fill="#2020ff" text-anchor="middle">Recombination rate (cM/Mb)</text>
<rect x="74.3" y="33.3" width="47.2" height="114.2" fill="#fff" stroke="#555" stroke-width="0.8"/>
<text x="94" y="48.5" font-size="11.2" fill="#333">r<tspan font-size="7.5" dy="-4">2</tspan></text>
<rect x="80.7" y="53.3" width="11.5" height="17.6" fill="#FF0000" stroke="#333" stroke-width="0.5"/>
<rect x="80.7" y="70.9" width="11.5" height="17.6" fill="#FFA500" stroke="#333" stroke-width="0.5"/>
<rect x="80.7" y="88.5" width="11.5" height="17.6" fill="#00FF00" stroke="#333" stroke-width="0.5"/>
<rect x="80.7" y="106.1" width="11.5" height="17.6" fill="#87CEFA" stroke="#333" stroke-width="0.5"/>
<rect x="80.7" y="123.7" width="11.5" height="17.6" fill="#000080" stroke="#333" stroke-width="0.5"/>
<rect x="80.7" y="53.3" width="11.5" height="88" fill="none" stroke="#444" stroke-width="0.6"/>
<g font-size="9.8" fill="#333">
<path d="M92.2 70.9 h6" stroke="#444" stroke-width="0.8"/>
<text x="101.2" y="74.4">0.8</text>
<path d="M92.2 88.5 h6" stroke="#444" stroke-width="0.8"/>
<text x="101.2" y="92.0">0.6</text>
<path d="M92.2 106.1 h6" stroke="#444" stroke-width="0.8"/>
<text x="101.2" y="109.6">0.4</text>
<path d="M92.2 123.7 h6" stroke="#444" stroke-width="0.8"/>
<text x="101.2" y="127.2">0.2</text>
</g>
<rect x="68.5" y="383.5" width="568.0" height="45.0" fill="none" stroke="#a3a3a3" stroke-width="1"/>
<g stroke="#555" stroke-width="1">
<path d="M140.6 428.5 v6.5"/>
<path d="M235.4 428.5 v6.5"/>
<path d="M330.2 428.5 v6.5"/>
<path d="M425.0 428.5 v6.5"/>
<path d="M519.8 428.5 v6.5"/>
<path d="M614.6 428.5 v6.5"/>
</g>
<g class="t" font-size="11.8" fill="#444" text-anchor="middle">
<text x="140.6" y="454.3">32.4</text>
<text x="235.4" y="454.3">32.45</text>
<text x="330.2" y="454.3">32.5</text>
<text x="425.0" y="454.3">32.55</text>
<text x="519.8" y="454.3">32.6</text>
<text x="614.6" y="454.3">32.65</text>
<text x="352.6" y="470.7" font-size="11.7">Position on chr6 (Mb)</text>
</g>
<text x="97.8" y="395.0" font-size="9.8" font-style="italic" text-anchor="middle" fill="#000" stroke="#000" stroke-width="0.25">BTNL2</text>
<path d="M80.3 391.4 H72.0" fill="none" stroke="#000" stroke-width="0.9"/><path d="M69.8 391.4 L74.2 389.59999999999997 L73.2 391.4 L74.2 393.2 Z" fill="#000"/>
<path d="M69.7 399.6 H93.6" stroke="#000088" stroke-width="0.9"/>
<path d="M69.9 397.70000000000005 V401.5" stroke="#000088" stroke-width="0.95"/>
<path d="M70.9 397.70000000000005 V401.5" stroke="#000088" stroke-width="0.95"/>
<path d="M72.3 397.70000000000005 V401.5" stroke="#000088" stroke-width="0.95"/>
<path d="M84 397.70000000000005 V401.5" stroke="#000088" stroke-width="0.95"/>
<path d="M85.7 397.70000000000005 V401.5" stroke="#000088" stroke-width="0.95"/>
<path d="M89.2 397.70000000000005 V401.5" stroke="#000088" stroke-width="0.95"/>
<path d="M93.4 397.70000000000005 V401.5" stroke="#000088" stroke-width="0.95"/>
<text x="155.4" y="395.0" font-size="9.8" font-style="italic" text-anchor="middle" fill="#000" stroke="#000" stroke-width="0.25">HLA−DRA</text>
<path d="M179.2 391.4 H187.7" fill="none" stroke="#000" stroke-width="0.9"/><path d="M189.89999999999998 391.4 L185.5 389.59999999999997 L186.5 391.4 L185.5 393.2 Z" fill="#000"/>
<path d="M155.6 399.6 H165.6" stroke="#000088" stroke-width="0.9"/>
<path d="M155.6 397.70000000000005 V401.5" stroke="#000088" stroke-width="0.95"/>
<path d="M160 397.70000000000005 V401.5" stroke="#000088" stroke-width="0.95"/>
<path d="M165.4 397.70000000000005 V401.5" stroke="#000088" stroke-width="0.95"/>
<rect x="161.2" y="397.70000000000005" width="2.4" height="3.8" fill="#000080"/>
<rect x="164.2" y="397.70000000000005" width="1.0" height="3.8" fill="#000080"/>
<text x="320.4" y="395.0" font-size="9.8" font-style="italic" text-anchor="middle" fill="#000" stroke="#000" stroke-width="0.25">HLA−DRB5</text>
<path d="M291.9 391.4 H284.3" fill="none" stroke="#000" stroke-width="0.9"/><path d="M282.1 391.4 L286.5 389.59999999999997 L285.5 391.4 L286.5 393.2 Z" fill="#000"/>
<path d="M302.1 399.6 H326.9" stroke="#000088" stroke-width="0.9"/>
<path d="M307.1 397.70000000000005 V401.5" stroke="#000088" stroke-width="0.95"/>
<path d="M310.9 397.70000000000005 V401.5" stroke="#000088" stroke-width="0.95"/>
<path d="M326.9 397.70000000000005 V401.5" stroke="#000088" stroke-width="0.95"/>
<rect x="302.1" y="397.70000000000005" width="2.2" height="3.8" fill="#000080"/>
<text x="381.6" y="417.4" font-size="9.8" font-style="italic" text-anchor="middle" fill="#000" stroke="#000" stroke-width="0.25">HLA−DRB6</text>
<path d="M354.1 413.79999999999995 H346.5" fill="none" stroke="#000" stroke-width="0.9"/><path d="M344.3 413.79999999999995 L348.7 411.99999999999994 L347.7 413.79999999999995 L348.7 415.59999999999997 Z" fill="#000"/>
<path d="M369.3 422.1 H383.3" stroke="#000088" stroke-width="0.9"/>
<path d="M373.8 420.20000000000005 V424.0" stroke="#000088" stroke-width="0.95"/>
<path d="M379.5 420.20000000000005 V424.0" stroke="#000088" stroke-width="0.95"/>
<path d="M383.3 420.20000000000005 V424.0" stroke="#000088" stroke-width="0.95"/>
<rect x="369.3" y="420.20000000000005" width="2.9" height="3.8" fill="#000080"/>
<text x="434.7" y="395.0" font-size="9.8" font-style="italic" text-anchor="middle" fill="#000" stroke="#000" stroke-width="0.25">HLA−DRB1</text>
<path d="M406.6 391.4 H399" fill="none" stroke="#000" stroke-width="0.9"/><path d="M396.8 391.4 L401.2 389.59999999999997 L400.2 391.4 L401.2 393.2 Z" fill="#000"/>
<path d="M418.3 399.6 H439.9" stroke="#000088" stroke-width="0.9"/>
<path d="M418.3 397.70000000000005 V401.5" stroke="#000088" stroke-width="0.95"/>
<path d="M420.4 397.70000000000005 V401.5" stroke="#000088" stroke-width="0.95"/>
<path d="M422.4 397.70000000000005 V401.5" stroke="#000088" stroke-width="0.95"/>
<path d="M424.7 397.70000000000005 V401.5" stroke="#000088" stroke-width="0.95"/>
<path d="M429.1 397.70000000000005 V401.5" stroke="#000088" stroke-width="0.95"/>
<path d="M439.9 397.70000000000005 V401.5" stroke="#000088" stroke-width="0.95"/>
<rect x="419.8" y="397.70000000000005" width="1.2" height="3.8" fill="#000080"/>
<text x="530.3" y="395.0" font-size="9.8" font-style="italic" text-anchor="middle" fill="#000" stroke="#000" stroke-width="0.25">HLA−DQA1</text>
<path d="M557.9 391.4 H566.4" fill="none" stroke="#000" stroke-width="0.9"/><path d="M568.6 391.4 L564.1999999999999 389.59999999999997 L565.1999999999999 391.4 L564.1999999999999 393.2 Z" fill="#000"/>
<path d="M529.4 399.6 H542.1" stroke="#000088" stroke-width="0.9"/>
<path d="M529.4 397.70000000000005 V401.5" stroke="#000088" stroke-width="0.95"/>
<rect x="537.1" y="397.70000000000005" width="5.0" height="3.8" fill="#000080"/>
<text x="583.8" y="417.4" font-size="9.8" font-style="italic" text-anchor="middle" fill="#000" stroke="#000" stroke-width="0.25">HLA−DQB1</text>
<path d="M556.3 413.79999999999995 H547.8" fill="none" stroke="#000" stroke-width="0.9"/><path d="M545.5999999999999 413.79999999999995 L550.0 411.99999999999994 L549.0 413.79999999999995 L550.0 415.59999999999997 Z" fill="#000"/>
<path d="M571 422.1 H585.7" stroke="#000088" stroke-width="0.9"/>
<path d="M582 420.20000000000005 V424.0" stroke="#000088" stroke-width="0.95"/>
<path d="M585.7 420.20000000000005 V424.0" stroke="#000088" stroke-width="0.95"/>
<rect x="571" y="420.20000000000005" width="2.6" height="3.8" fill="#000080"/>
<rect x="575" y="420.20000000000005" width="2.6" height="3.8" fill="#000080"/>
</svg></body></html>
